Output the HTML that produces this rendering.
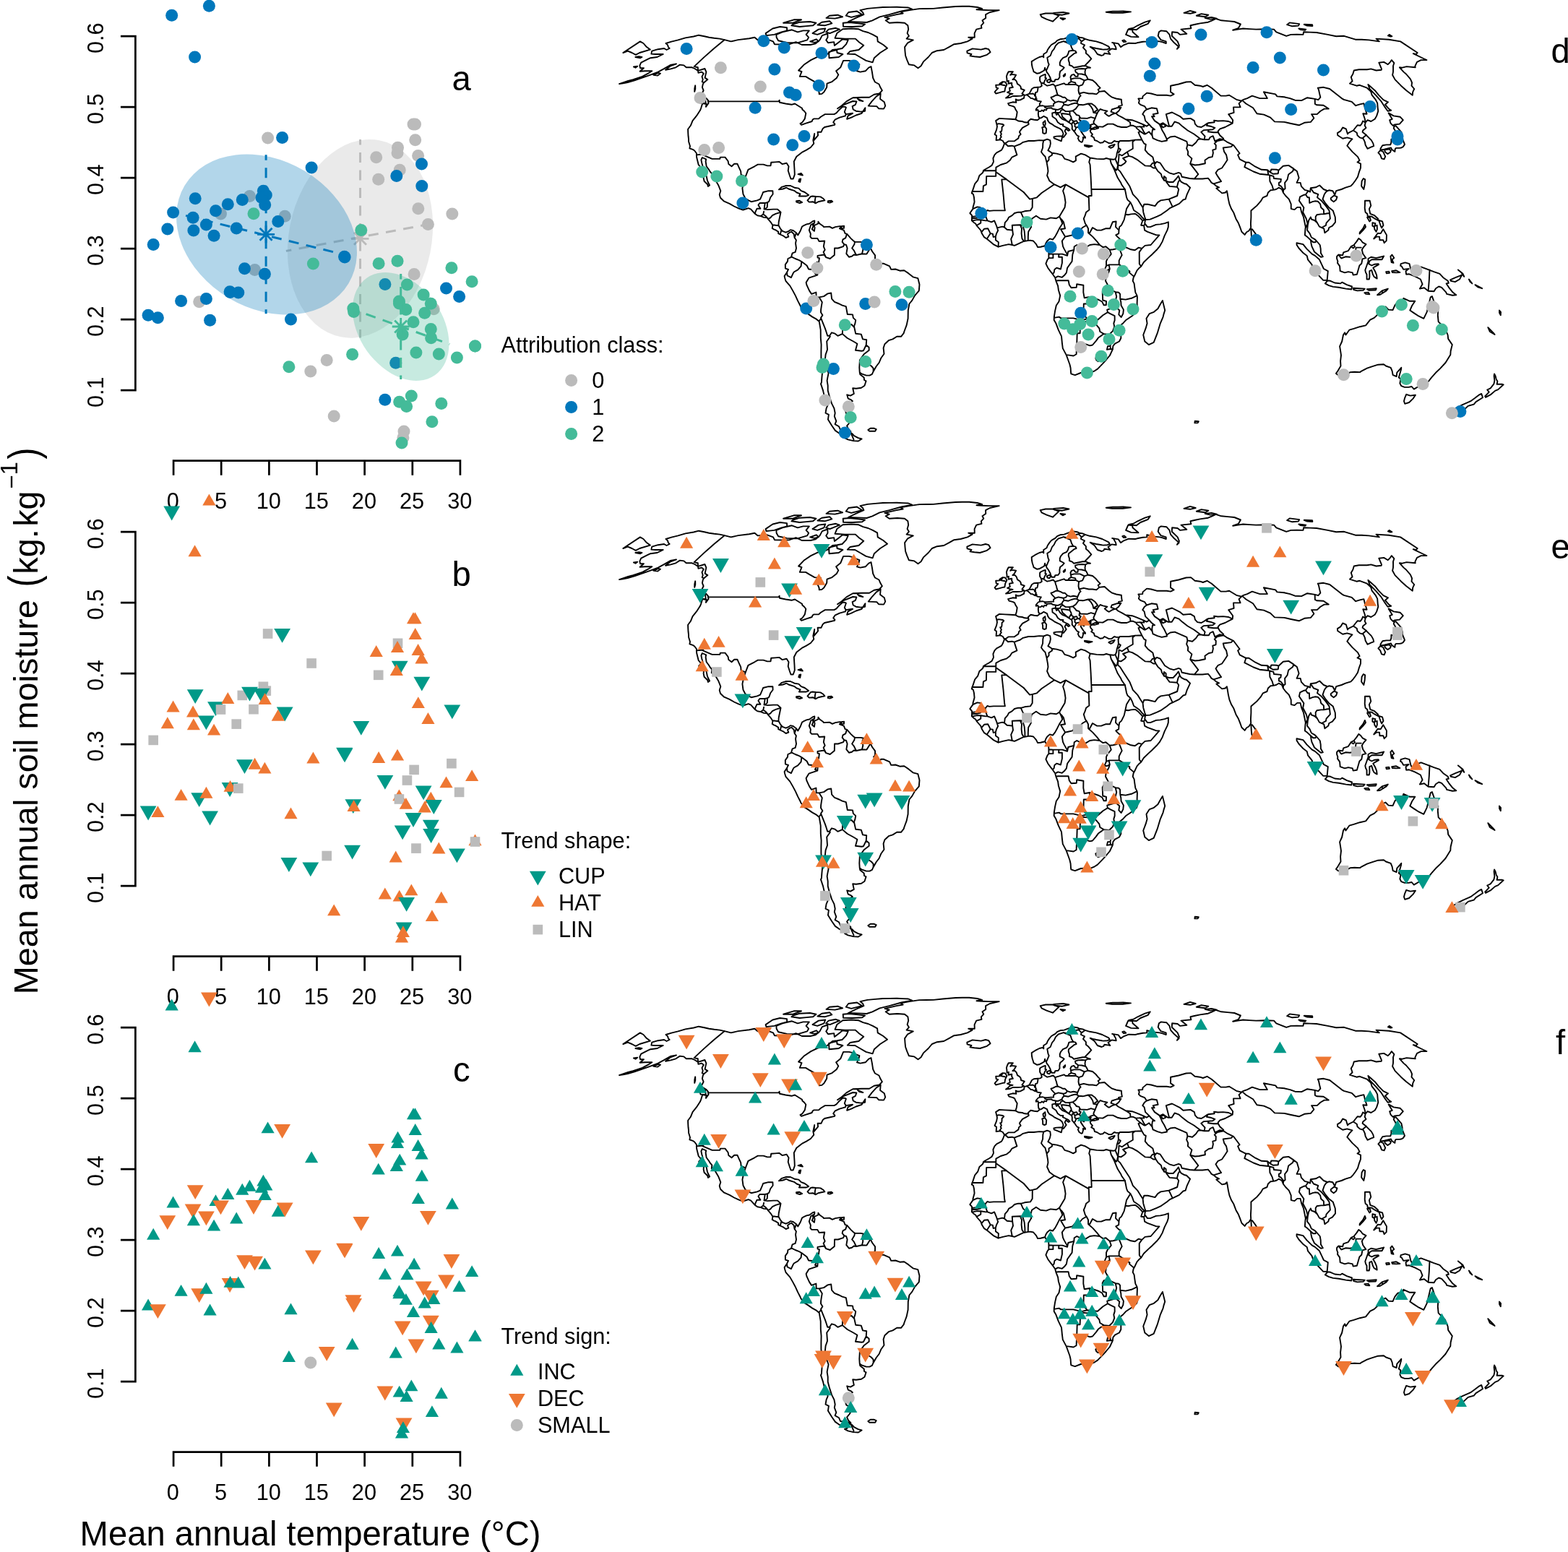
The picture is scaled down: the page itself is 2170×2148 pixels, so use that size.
<!DOCTYPE html>
<html><head><meta charset="utf-8"><title>Figure</title>
<style>html,body{margin:0;padding:0;background:#fff}svg{display:block}</style></head>
<body>
<svg xmlns="http://www.w3.org/2000/svg" width="2170" height="2148" viewBox="0 0 2170 2148" font-family='"Liberation Sans", Arial, Helvetica, sans-serif' fill="#000">
<rect width="2170" height="2148" fill="#fff"/>
<defs><g id="wm" fill="none" stroke="#000" stroke-width="1.9" stroke-linejoin="round" stroke-linecap="round"><path d="M902.2 70.6L910.6 68.2L919.1 67.0L922.5 69.0L926.6 67.0L924.8 65.1L924.1 62.4L921.5 60.0L929.2 57.7L938.4 55.4L948.6 52.4L959.9 50.5L967.0 48.7L974.8 50.2L981.3 51.7L988.4 52.8L996.0 53.6L1002.8 55.1L1011.6 57.4L1021.6 55.1L1036.9 53.2L1044.4 51.7L1048.8 55.4L1061.6 54.3L1070.0 57.4L1072.0 61.2L1086.5 61.6L1092.7 61.2L1101.5 58.1L1109.8 62.0L1121.6 62.0L1128.8 60.4L1134.5 55.4L1137.8 49.1L1145.3 46.5L1145.5 51.7L1143.2 55.4L1146.0 59.3L1154.2 58.1L1154.9 63.1L1162.1 57.4L1165.9 54.3L1173.7 55.4L1171.1 61.2L1165.5 67.0L1158.7 68.2L1152.1 69.0L1144.9 75.0L1140.4 77.0L1131.6 78.6L1122.2 83.1L1113.1 89.2L1105.1 97.5L1109.5 99.2L1106.8 105.9L1115.0 105.9L1119.9 108.9L1127.4 113.1L1136.0 114.0L1131.6 123.0L1133.5 127.3L1133.8 130.4L1137.4 129.9L1140.4 127.3L1144.2 120.8L1144.5 115.7L1151.5 113.1L1157.8 108.0L1160.3 103.4L1157.1 98.3L1163.2 93.3L1167.1 83.9L1175.0 83.9L1180.6 85.1L1184.2 87.1L1189.4 89.2L1188.3 93.7L1186.0 98.3L1190.6 99.6L1197.7 98.3L1202.2 93.7L1205.5 92.1L1206.9 99.6L1208.2 108.0L1210.9 113.5L1216.5 116.5L1218.3 120.8L1220.9 125.2L1217.0 129.5L1209.7 130.8L1203.1 134.7L1192.7 134.7L1180.3 135.2L1171.4 140.4L1163.7 147.1L1159.0 150.2L1168.0 144.8L1180.3 140.0L1185.4 140.4L1183.9 144.8L1179.6 147.1L1180.7 151.5L1184.6 153.7L1191.5 154.6L1197.1 153.7L1197.4 149.3L1192.6 156.8L1184.6 159.5L1178.2 162.6L1172.1 164.8L1173.5 160.4L1180.0 156.8L1170.6 158.1L1169.9 160.4L1161.9 162.6L1155.5 165.7L1153.2 169.3L1155.4 171.6L1155.0 172.9L1149.0 174.2L1141.1 176.0L1138.5 178.3L1136.4 182.8L1131.6 182.8L1132.1 187.3L1126.4 194.1L1127.2 185.0L1125.3 194.1L1126.3 198.6L1121.9 204.0L1116.0 207.6L1110.7 210.3L1102.3 216.7L1098.8 223.5L1099.5 234.8L1099.8 241.6L1097.7 247.5L1094.5 247.5L1092.9 243.0L1090.7 236.2L1091.5 230.3L1088.6 225.7L1082.5 227.1L1078.6 223.9L1072.7 224.4L1067.2 224.8L1066.5 229.4L1061.9 229.4L1056.5 227.6L1048.8 227.6L1044.2 230.3L1035.4 234.8L1031.8 244.3L1029.0 252.9L1027.4 260.6L1028.5 268.8L1031.6 274.7L1036.0 277.4L1039.7 279.2L1047.9 277.4L1052.1 275.6L1055.0 268.8L1056.1 266.0L1063.5 264.2L1069.4 264.2L1069.6 268.8L1066.2 273.3L1064.3 278.7L1062.2 280.1L1061.7 286.9L1058.6 289.6L1062.2 290.1L1070.2 289.6L1076.1 289.6L1080.5 293.7L1079.1 300.5L1077.7 307.3L1077.4 311.8L1079.9 316.3L1082.9 319.9L1087.6 321.7L1091.7 319.9L1093.8 318.1L1097.7 319.0L1102.0 322.2L1104.2 325.4L1107.7 319.5L1110.0 313.6L1113.0 311.8L1116.2 310.4L1120.3 309.5L1124.5 306.4L1127.3 305.4L1127.2 308.2L1124.9 311.8L1125.7 312.7L1123.8 317.2L1126.9 319.9L1127.6 315.0L1126.5 312.2L1132.3 309.5L1132.4 306.8L1134.3 309.5L1138.9 312.7L1140.0 314.1L1148.0 313.6L1151.9 315.9L1156.0 314.1L1162.1 313.1L1164.5 313.1L1161.9 316.3L1167.8 318.6L1169.6 323.1L1172.4 324.0L1177.4 329.9L1181.3 333.5L1183.3 334.9L1191.3 334.9L1195.3 335.8L1201.2 339.4L1204.4 342.6L1207.1 348.0L1211.1 353.4L1211.0 359.3L1209.0 361.6L1215.0 362.5L1217.1 368.4L1219.1 364.8L1223.1 364.8L1231.1 368.4L1233.2 372.9L1239.2 372.5L1245.3 374.7L1251.3 374.3L1257.4 378.4L1263.5 383.3L1270.3 385.1L1272.5 393.8L1271.8 402.4L1266.0 409.1L1262.2 415.9L1258.4 420.5L1256.8 429.5L1256.6 440.8L1254.7 449.9L1251.3 459.0L1250.7 461.2L1247.0 465.8L1241.2 465.8L1235.5 469.4L1229.8 471.2L1224.4 476.2L1222.6 481.6L1223.5 489.8L1219.5 495.2L1216.6 502.0L1212.7 507.0L1208.6 514.2L1206.9 517.8L1203.5 519.6L1198.9 519.6L1192.4 517.4L1189.8 515.6L1190.3 518.3L1195.7 522.4L1196.0 526.0L1198.6 527.3L1196.5 533.7L1192.0 536.8L1184.8 537.7L1180.2 537.3L1181.8 544.9L1177.0 547.6L1172.2 546.3L1173.7 551.6L1177.9 553.4L1179.9 555.2L1175.5 557.5L1176.5 564.2L1172.7 565.9L1170.3 569.5L1171.3 572.6L1177.9 576.1L1178.9 579.2L1175.7 585.0L1172.1 589.3L1173.9 593.7L1177.4 597.2L1174.0 598.0L1170.1 599.3L1171.5 603.2L1167.5 602.8L1160.8 599.3L1155.9 595.9L1151.3 589.3L1145.9 580.6L1146.9 573.9L1142.5 571.7L1143.6 565.1L1145.6 560.6L1145.1 553.9L1141.1 549.4L1139.0 540.4L1136.0 531.4L1136.9 529.1L1137.4 522.4L1138.5 511.0L1137.0 502.0L1136.4 495.2L1136.4 486.1L1136.6 477.1L1135.8 468.0L1135.7 456.7L1133.7 444.9L1129.3 441.3L1124.3 438.6L1117.9 434.1L1112.8 430.9L1108.3 425.0L1107.4 422.7L1104.1 416.4L1100.8 409.1L1097.2 402.4L1093.3 395.6L1087.4 388.8L1086.0 384.2L1085.6 382.0L1089.0 377.0L1091.0 372.9L1086.9 371.6L1086.8 366.1L1090.0 361.6L1090.4 358.0L1094.5 356.2L1095.3 354.8L1096.6 350.3L1100.6 348.9L1102.0 343.5L1101.0 336.7L1101.9 332.2L1099.6 329.0L1098.7 324.0L1095.6 320.8L1093.6 321.3L1089.9 324.0L1091.3 327.6L1087.6 329.0L1084.5 326.7L1079.8 324.5L1077.1 323.1L1077.2 320.8L1073.0 318.1L1071.4 317.7L1068.7 315.9L1069.4 311.8L1066.5 307.3L1062.9 303.2L1061.8 301.4L1057.1 300.9L1052.9 299.1L1048.2 298.2L1044.8 295.9L1039.2 289.6L1035.8 288.2L1028.3 290.5L1022.6 288.7L1015.9 285.5L1009.6 281.9L1002.2 278.7L997.0 273.7L995.7 269.2L997.3 264.2L994.3 256.5L989.6 248.4L984.8 245.2L985.4 240.7L982.4 237.1L981.1 234.8L977.7 230.3L976.6 223.5L977.2 220.3L971.9 218.0L970.4 221.2L971.3 225.7L972.6 230.3L974.1 234.8L976.0 239.3L977.7 243.9L978.8 249.3L979.8 252.0L982.1 256.5L979.9 257.9L979.2 255.2L974.6 250.7L973.6 246.1L974.0 243.0L969.6 240.2L967.2 235.7L970.2 232.1L966.7 228.0L965.7 223.9L964.2 218.0L963.9 214.4L964.0 212.2L961.2 208.5L959.4 207.2L954.4 205.4L955.0 202.2L953.1 195.9L952.9 191.4L952.5 188.2L952.2 182.8L952.1 178.7L955.8 173.8L958.5 167.1L963.9 160.4L968.9 152.8L970.3 149.3L972.2 143.1L977.6 144.0L976.9 147.9L980.6 142.6L979.9 140.4L980.1 139.1L977.6 136.1L973.9 133.9L970.3 131.7L973.6 125.2L971.9 120.8L972.8 116.5L974.0 114.4L971.7 113.1L972.7 110.1L971.5 105.9L973.8 101.7L970.9 99.6L966.4 100.8L966.0 97.9L961.5 95.0L957.7 93.3L949.7 93.3L946.4 90.4L940.9 89.6L935.3 93.3L928.2 95.4L921.0 96.7L927.9 91.3L936.0 88.4L927.7 90.0L918.5 95.4L910.7 99.6L899.5 103.8L888.8 107.6L878.1 111.4L868.7 114.0L862.3 115.3L857.0 116.1L869.3 111.8L876.1 110.1L889.0 105.9L896.9 101.7L902.3 98.3L897.4 98.3L892.6 98.3L885.6 98.7L890.9 94.2L886.1 94.2L885.3 90.8L887.2 86.7L896.0 82.2L900.2 80.2L909.5 79.0L917.7 75.0L913.1 75.0L907.0 75.0L901.4 74.6ZM1002.8 55.1L988.2 67.0L974.2 79.4L960.6 92.1L965.8 93.3L966.0 97.9L975.4 95.0L977.4 99.6L975.6 107.6L979.3 110.1L974.0 114.4M979.9 140.4L990.8 140.4L1001.6 140.4L1012.5 140.4L1023.4 140.4L1034.3 140.4L1045.1 140.4L1056.0 140.4L1066.9 140.4L1077.7 140.4L1078.6 138.7L1079.0 141.8L1087.3 143.5L1095.5 144.8L1100.0 143.5L1110.0 149.7L1110.3 151.5L1113.0 153.7L1115.3 156.8L1113.8 164.4L1110.4 169.3L1107.5 171.1L1109.1 172.9L1115.4 170.7L1123.7 168.0L1124.5 165.7L1126.1 164.4L1133.0 164.4L1135.8 161.7L1141.8 158.1L1154.4 158.1L1157.5 156.4L1160.6 152.8L1166.3 147.5L1169.7 147.9L1170.9 148.8L1168.8 155.0L1170.4 157.7M963.9 214.4L973.4 213.5L972.7 214.4L985.5 219.9L996.2 219.9L996.9 217.6L1003.5 217.6L1007.6 223.0L1008.3 227.1L1012.5 230.3L1016.2 226.7L1020.4 226.7L1022.6 231.6L1025.2 237.1L1025.6 242.0L1031.8 244.3M1044.8 295.9L1045.5 293.2L1047.6 288.7L1052.4 288.7L1049.4 283.7L1051.4 281.0L1058.7 281.0L1057.5 289.6L1058.6 289.6M1058.7 281.0L1062.2 280.1M1057.1 292.8L1056.3 296.4L1052.9 299.1M1056.3 296.4L1059.3 298.7L1061.8 301.4M1062.9 303.2L1066.2 301.4L1068.9 298.2L1073.5 295.9L1077.6 294.6L1080.5 293.7M1069.4 311.3L1073.4 311.8L1077.3 312.2M1079.8 324.5L1081.3 318.6M1099.6 329.0L1102.0 322.2M1127.2 308.2L1122.2 311.3L1119.8 318.6L1121.9 323.6L1121.4 327.6L1123.3 329.9L1131.3 329.9L1133.6 334.0L1141.2 333.5L1139.8 341.2L1141.7 345.8L1139.6 348.9L1143.1 356.2M1143.1 356.2L1140.7 352.5L1131.5 353.9L1131.5 356.6L1133.9 357.1L1133.0 363.9L1130.6 362.5L1132.3 368.4L1131.3 380.6M1131.3 380.6L1128.0 378.8L1130.8 373.8L1119.1 372.5L1116.6 367.5L1109.3 362.1M1109.3 362.1L1105.3 359.8L1100.5 358.0L1095.3 355.3M1109.3 362.1L1108.6 368.4L1104.2 373.4L1098.7 376.5L1097.1 379.3L1094.9 384.2L1089.6 381.5L1089.0 377.0M1131.3 380.6L1119.4 384.7L1115.6 391.0L1116.5 394.7L1120.1 402.4L1123.1 406.9L1129.4 404.6L1129.7 411.4L1133.7 411.4M1133.7 411.4L1137.8 418.2L1136.9 423.2L1136.1 428.6L1136.0 432.2L1138.4 436.3L1136.0 439.9L1136.4 440.8L1133.2 444.5M1136.4 440.8L1139.1 447.6L1141.8 454.4L1143.4 459.0L1145.2 464.8L1148.0 464.8M1133.7 411.4L1140.1 410.1L1145.5 406.4L1150.2 405.5L1151.1 413.7L1154.9 417.8L1161.4 420.5L1165.6 422.7L1170.8 424.1L1172.8 435.0L1180.0 435.4L1180.8 439.9L1184.2 443.1L1183.4 447.6L1182.1 451.3L1182.3 453.1M1182.3 453.1L1178.4 449.0L1168.2 450.4L1166.2 454.4L1165.8 462.1M1165.8 462.1L1159.4 464.8L1155.5 461.7L1151.0 460.3L1148.0 464.8M1148.0 464.8L1148.9 465.8L1144.2 472.5L1145.0 483.9L1142.6 490.7L1141.9 497.5L1141.3 504.2L1144.6 511.0L1146.6 516.5L1145.4 522.4L1144.6 526.9L1145.7 533.7L1145.7 540.4L1148.1 549.4L1151.0 558.4L1154.4 565.1L1155.7 571.7L1154.8 576.1L1157.3 582.8L1155.6 587.1L1161.0 590.2L1163.0 595.0L1171.3 595.9L1177.4 597.2M1165.8 462.1L1172.7 468.0L1181.0 472.5L1186.4 475.7L1184.0 484.8L1192.3 485.7L1195.0 485.2L1198.7 477.5M1182.3 453.1L1184.2 461.7L1191.8 462.6L1194.0 469.4L1199.2 470.3L1198.7 477.5M1198.7 477.5L1202.6 480.7L1202.7 484.8L1195.6 490.2L1189.9 498.4M1189.9 498.4L1189.3 508.8L1189.7 515.1M1189.9 498.4L1196.5 501.5L1200.7 503.3L1205.8 506.5L1208.6 509.7L1208.6 514.2M1143.1 356.2L1148.7 358.0L1154.8 353.0L1155.0 343.5L1159.8 343.5L1167.1 341.2L1168.3 338.1M1168.3 338.1L1165.6 334.9L1166.5 331.3L1170.2 329.4L1171.5 325.4L1172.4 324.0M1168.3 338.1L1171.1 339.0L1172.6 343.5L1171.3 351.2L1174.9 355.7L1178.9 354.8L1181.7 352.5L1184.9 353.0M1184.9 353.0L1181.8 346.7L1179.1 343.5L1182.4 338.1L1182.9 334.9M1184.9 353.0L1187.4 352.5L1193.0 351.2M1193.0 351.2L1194.3 345.8L1193.6 339.0L1195.3 335.8M1193.0 351.2L1199.4 351.6L1204.4 343.5M1177.4 598.9L1171.6 599.8L1173.6 602.8L1172.2 604.9L1168.9 605.8L1173.5 608.4L1181.0 610.1L1187.9 610.5L1192.6 607.5L1187.7 606.2L1182.0 603.2L1179.3 600.2ZM1177.4 598.9L1181.5 608.4M1201.3 595.0L1204.6 592.8L1209.8 592.8L1212.7 594.1L1211.2 596.7L1207.1 596.7L1203.3 596.7ZM1077.9 262.4L1081.9 258.8L1088.0 257.0L1093.9 257.0L1099.5 259.7L1105.3 260.6L1108.8 264.2L1113.7 266.0L1119.1 270.1L1115.8 271.5L1105.9 271.5L1107.5 268.3L1102.6 266.5L1099.0 263.8L1091.4 261.5L1088.5 259.7L1083.5 261.5ZM1117.5 277.4L1122.1 271.9L1124.5 271.5L1128.8 271.9L1135.5 272.4L1139.2 274.7L1141.3 277.4L1136.8 278.3L1132.4 279.2L1128.6 281.4L1125.3 279.2L1119.7 279.6ZM1128.8 271.9L1127.8 277.4L1127.9 281.0M1102.0 278.3L1106.4 277.8L1110.1 280.1L1106.8 281.0L1102.2 279.6ZM1145.9 278.3L1150.7 277.8L1152.2 279.2L1148.5 280.5L1145.8 280.1ZM1164.5 313.1L1168.1 312.7L1167.9 315.9L1164.3 315.9ZM1106.2 247.9L1108.2 247.5L1107.2 252.0L1105.3 251.1ZM1104.5 241.1L1108.7 239.8L1110.9 242.5L1108.3 242.0ZM1536.2 220.3L1540.8 220.8L1543.8 219.9L1545.3 215.8L1545.7 212.2L1547.1 208.1L1547.9 204.9L1547.6 199.5L1548.3 195.9L1544.9 195.9L1542.1 195.0L1538.4 198.1L1534.6 198.1L1528.6 195.0L1526.2 197.2L1522.5 197.7L1518.1 195.0L1515.0 194.1L1513.8 190.4L1510.2 188.2L1511.9 185.9L1509.3 182.8L1508.7 180.5L1511.1 178.7L1515.5 178.7L1520.2 177.4L1518.9 176.0L1515.2 176.0L1511.7 177.8L1508.0 177.8L1504.2 176.5L1500.6 177.4L1500.2 180.5L1497.0 178.7L1495.9 178.3L1495.8 181.4L1497.6 184.1L1499.7 187.3L1501.8 189.5L1502.1 190.9L1498.8 190.0L1499.0 192.3L1497.9 196.3L1496.4 196.8L1493.6 195.0L1491.8 191.4L1493.1 188.6L1490.8 187.7L1489.1 185.5L1487.0 182.3L1483.7 178.7L1483.8 174.7L1483.2 172.0L1479.7 169.8L1475.8 167.1L1470.2 164.8L1467.0 161.7L1464.2 157.3L1462.1 159.0L1460.8 155.5L1456.2 156.4L1456.5 161.3L1461.4 164.8L1463.9 169.3L1467.7 172.0L1471.4 172.0L1470.8 174.2L1474.7 176.0L1478.5 177.8L1480.5 180.1L1478.7 181.0L1475.2 178.3L1473.6 181.4L1475.7 185.0L1473.6 187.7L1471.9 190.0L1470.3 188.6L1471.6 185.0L1469.8 180.5L1466.7 177.8L1464.4 176.9L1459.8 174.7L1456.8 172.4L1452.2 169.8L1450.3 167.1L1449.0 163.1L1444.5 160.8L1441.0 163.1L1439.2 163.5L1435.7 166.2L1431.3 165.7L1426.5 164.8L1422.9 168.0L1423.7 172.0L1420.1 174.2L1415.0 176.9L1411.3 181.9L1410.9 182.8L1412.7 185.9L1410.1 188.2L1409.4 191.4L1404.9 194.5L1403.7 195.4L1395.4 195.4L1392.0 198.1L1389.4 197.7L1387.9 195.0L1384.2 193.2L1378.6 194.1L1379.1 187.7L1376.6 185.9L1379.1 179.6L1380.0 175.1L1379.4 172.0L1378.1 167.1L1383.0 163.9L1390.9 164.4L1398.2 164.8L1405.5 165.3L1406.9 160.4L1407.7 155.0L1405.2 151.0L1404.2 148.4L1402.1 147.1L1396.4 145.7L1395.1 143.1L1401.4 141.3L1406.4 141.8L1405.7 137.4L1408.1 138.7L1412.4 138.2L1417.2 135.6L1417.5 132.1L1420.7 131.2L1424.1 129.9L1425.8 127.3L1428.0 123.0L1430.7 121.3L1435.8 120.8L1439.5 120.4L1441.8 118.7L1440.9 114.8L1439.1 111.8L1439.1 106.7L1440.4 105.5L1444.8 103.4L1446.8 102.9L1446.5 108.0L1448.2 108.4L1446.0 111.0L1444.9 114.4L1443.9 115.3L1445.7 116.5L1449.2 118.7L1452.9 117.8L1457.5 116.5L1460.1 119.1L1466.0 117.4L1472.5 115.3L1474.7 117.0L1478.1 117.0L1479.2 114.8L1482.3 113.1L1482.2 110.1L1481.4 106.7L1483.0 103.8L1486.1 102.9L1488.5 105.9L1491.5 105.9L1491.9 102.1L1488.5 99.6L1488.0 96.7L1492.0 95.4L1497.4 95.0L1502.3 95.4L1505.2 93.7L1509.0 93.7L1504.9 92.5L1503.1 91.3L1498.3 91.3L1492.1 92.5L1485.9 93.7L1484.0 91.7L1479.9 90.0L1480.0 87.1L1478.7 83.1L1478.9 80.2L1483.0 77.0L1487.0 73.8L1489.6 73.0L1488.5 70.6L1485.3 69.8L1479.4 70.6L1478.0 75.0L1476.3 77.8L1471.1 80.2L1467.9 83.9L1466.7 87.1L1466.9 90.4L1471.3 92.5L1472.7 93.7L1470.5 96.2L1467.2 98.7L1466.4 102.5L1466.5 106.7L1464.5 109.7L1460.3 110.1L1459.5 112.7L1455.5 112.7L1454.3 110.1L1453.4 107.2L1451.0 102.9L1448.5 99.6L1448.0 97.5L1446.6 96.2L1446.1 93.7L1445.1 97.5L1441.3 99.6L1438.1 101.3L1434.9 101.7L1430.5 99.2L1430.1 97.5L1428.7 93.3L1427.9 89.2L1427.7 85.1L1432.3 82.2L1438.4 79.0L1442.9 77.8L1444.3 79.4L1444.2 75.0L1448.6 72.2L1449.8 69.0L1452.4 65.1L1455.0 62.0L1457.7 60.4L1460.4 58.9L1463.0 56.2L1467.0 54.3L1472.7 53.6L1478.0 51.7L1485.3 49.4L1490.6 50.2L1493.8 51.7L1498.4 52.4L1501.7 53.9L1508.0 55.8L1517.2 57.4L1525.4 60.0L1534.3 64.3L1535.8 67.0L1532.6 68.2L1526.7 68.6L1517.2 67.0L1512.4 65.9L1508.7 64.7L1514.7 69.0L1518.8 75.0L1524.6 77.0L1527.4 75.8L1528.3 73.8L1534.7 74.6L1536.3 75.0L1533.5 71.0L1538.4 67.4L1544.7 68.2L1544.1 65.1L1540.8 59.3L1539.1 58.9L1547.7 60.4L1551.0 65.1L1554.5 62.7L1562.1 59.7L1571.1 60.0L1573.7 59.3L1581.7 57.7L1587.4 57.4L1587.2 54.3L1598.6 56.6L1604.9 57.4L1608.3 58.1L1613.8 60.0L1613.7 57.4L1606.5 55.1L1602.7 49.8L1603.9 44.3L1606.8 42.4L1614.3 43.2L1618.5 47.9L1620.0 53.6L1625.1 59.3L1631.7 65.1L1628.9 67.8L1632.0 63.1L1629.7 57.4L1621.8 49.8L1622.1 44.3L1629.6 45.0L1633.3 47.9L1642.3 46.8L1634.5 40.6L1648.4 39.2L1647.4 35.3L1654.1 33.8L1660.7 32.4L1672.0 30.7L1677.5 28.3L1682.6 25.9L1690.2 28.3L1699.2 29.1L1708.3 30.0L1716.9 33.5L1714.0 38.8L1706.2 41.7L1713.3 40.6L1720.3 39.5L1729.2 40.1L1738.2 40.6L1751.5 40.3L1763.0 40.6L1766.3 44.3L1780.2 49.8L1786.4 47.9L1794.5 47.6L1803.5 47.9L1804.1 44.3L1813.0 44.6L1822.0 45.0L1837.5 47.9L1849.2 50.2L1860.1 49.8L1875.8 54.7L1884.5 54.7L1894.4 55.4L1908.9 57.4L1904.5 53.6L1922.2 54.7L1938.1 57.4L1961.7 73.0L1960.0 75.0L1955.8 74.2L1970.0 81.0L1974.4 83.1L1966.6 83.1L1961.0 85.9L1958.4 91.3L1958.7 93.3L1946.6 92.1L1940.6 93.7L1936.9 93.3L1942.6 99.6L1946.0 102.5L1951.9 109.3L1954.1 114.4L1953.5 118.7L1957.2 123.0L1955.2 127.3L1954.8 131.7L1946.3 125.2L1939.0 118.7L1930.6 110.1L1927.1 103.8L1928.0 99.6L1928.1 95.4L1928.0 91.3L1929.4 87.1L1925.9 83.1L1923.6 86.3L1920.8 89.2L1915.2 85.9L1908.3 86.7L1912.0 95.4L1911.7 96.7L1904.6 97.5L1897.4 95.4L1891.9 96.2L1880.6 96.2L1873.8 97.5L1872.3 102.5L1869.8 106.7L1871.6 112.3L1868.0 115.7L1877.4 118.7L1881.7 117.8L1891.9 121.7L1897.1 126.5L1898.7 131.7L1903.9 138.2L1906.2 142.6L1906.7 149.3L1907.3 153.7L1905.2 160.4L1902.7 164.8L1897.4 168.0L1892.6 166.2L1889.8 169.3L1888.7 173.8L1890.5 176.9L1886.2 180.5L1885.6 182.8L1890.6 186.8L1897.9 194.1L1900.4 198.6L1901.2 202.2L1897.3 203.6L1892.5 205.8L1889.7 200.8L1888.8 196.3L1886.7 191.8L1881.9 190.4L1878.5 187.3L1877.8 183.7L1872.9 180.5L1865.8 184.1L1865.0 185.5L1862.8 178.3L1858.2 176.5L1855.2 181.4L1850.9 184.1L1851.3 187.3L1858.2 191.8L1864.3 190.4L1871.5 192.3L1867.7 196.3L1864.3 201.7L1871.4 209.9L1879.1 217.1L1881.6 222.1L1878.5 224.4L1883.1 226.7L1883.0 232.5L1880.8 238.4L1879.0 244.8L1875.8 249.7L1872.8 253.8L1869.5 257.4L1862.1 259.7L1856.6 262.0L1849.1 264.2L1847.3 269.7L1844.4 264.2L1839.1 263.3L1835.5 265.1L1832.9 268.8L1830.5 275.6L1834.1 281.0L1838.9 286.9L1844.7 291.4L1847.8 300.5L1848.1 307.3L1843.9 312.7L1839.3 315.0L1838.3 318.6L1833.4 322.2L1832.2 316.3L1825.9 313.6L1823.1 308.6L1819.2 305.0L1815.1 303.6L1813.9 300.5L1811.2 305.0L1809.8 311.8L1809.1 318.6L1812.6 323.1L1814.9 328.5L1819.1 330.8L1822.0 333.5L1826.7 339.0L1827.7 344.4L1827.9 350.3L1830.8 355.3L1828.0 355.7L1823.9 352.5L1819.0 348.5L1815.5 341.2L1814.5 336.7L1813.9 332.2L1808.9 327.6L1805.9 325.4L1806.3 318.6L1806.8 314.1L1805.4 307.3L1804.0 300.5L1801.2 293.7L1799.6 286.9L1795.2 286.9L1791.6 290.1L1786.8 289.1L1786.7 282.4L1783.8 275.6L1779.2 271.0L1775.8 266.5L1774.0 262.0L1769.7 259.7L1766.1 262.0L1762.3 262.9L1758.4 263.3L1754.9 266.5L1753.5 271.0L1747.9 273.3L1744.6 278.7L1739.4 284.6L1735.7 287.8L1731.4 291.4L1731.4 300.5L1730.9 309.5L1731.2 315.0L1728.3 319.5L1725.2 321.3L1722.6 324.9L1718.4 320.8L1716.0 314.1L1713.6 308.2L1710.4 302.7L1707.4 294.6L1704.1 289.1L1701.4 282.4L1699.9 275.6L1698.8 268.8L1697.9 264.2L1695.8 266.5L1691.2 267.4L1683.3 260.6L1687.1 259.3L1683.0 257.4L1679.5 254.3L1676.6 252.9L1674.2 249.3L1671.9 246.6L1664.2 247.5L1656.4 247.5L1652.8 247.5L1646.5 247.0L1640.5 245.7L1635.7 244.8L1634.0 240.2L1631.1 238.9L1624.4 241.1L1618.3 239.3L1612.0 235.3L1608.7 230.3L1605.7 225.7L1600.9 223.9L1599.2 225.7L1597.5 228.0L1599.6 232.5L1602.5 237.1L1606.8 240.7L1608.0 244.8L1610.8 249.3L1611.0 243.9L1613.6 246.1L1613.7 250.7L1617.7 252.0L1623.6 252.0L1628.2 247.0L1630.9 243.4L1632.6 248.4L1634.5 251.6L1639.5 254.3L1641.9 254.7L1647.1 259.7L1642.8 268.8L1640.6 275.6L1637.5 276.5L1632.0 281.9L1626.3 284.6L1619.4 287.8L1614.8 291.4L1607.2 296.8L1601.4 299.6L1591.6 303.6L1585.6 304.1L1584.3 300.5L1582.3 293.7L1581.6 287.3L1578.5 282.4L1574.2 275.6L1567.8 268.8L1566.0 264.2L1563.2 257.4L1558.8 250.7L1554.4 243.9L1550.0 237.1L1547.1 234.4L1547.3 228.0L1545.9 233.9L1544.8 235.7L1541.9 232.5L1537.8 226.2ZM885.9 57.4L890.5 60.0L894.9 65.1L899.8 68.6L885.2 73.0L879.8 75.8L874.5 73.0L868.8 70.6L862.3 73.0ZM1518.8 175.1L1526.2 175.6L1533.0 171.6L1540.3 171.6L1546.3 174.7L1552.1 176.0L1559.4 176.0L1564.5 173.8L1564.1 169.3L1559.5 166.2L1553.3 162.6L1547.3 159.5L1544.3 156.8L1548.1 153.7L1551.4 148.8L1545.5 149.3L1538.7 151.5L1537.5 154.6L1543.3 156.8L1539.2 158.1L1534.9 160.8L1533.0 159.9L1528.8 156.4L1532.3 153.7L1526.4 152.4L1522.6 151.0L1518.7 155.9L1516.0 162.6L1514.1 167.1L1513.3 169.3L1514.6 171.6ZM1583.9 153.7L1586.9 151.5L1593.5 149.3L1600.9 150.2L1602.6 156.8L1595.7 158.1L1597.6 161.3L1594.0 161.3L1597.9 167.1L1604.4 171.6L1606.6 176.0L1608.4 180.5L1611.2 185.0L1614.5 191.8L1615.0 194.5L1607.7 195.9L1601.8 194.1L1595.6 191.4L1594.6 187.7L1594.3 184.1L1595.1 179.2L1598.1 179.2L1593.7 176.0L1589.8 171.6L1585.1 167.1L1583.6 160.4L1581.3 158.1ZM1606.5 172.4L1611.0 171.6L1613.3 174.7L1609.3 176.5ZM1392.1 135.6L1398.1 134.7L1401.6 133.0L1406.8 133.0L1413.7 132.6L1416.8 130.8L1414.4 129.5L1417.8 124.7L1413.0 123.0L1412.7 120.4L1411.3 118.3L1408.0 116.1L1406.7 112.3L1404.7 110.1L1401.3 110.1L1403.7 108.0L1406.1 103.8L1400.5 102.9L1398.2 103.8L1401.9 99.2L1395.7 99.2L1394.0 102.5L1392.9 105.9L1393.4 108.9L1393.6 112.7L1396.0 111.8L1395.5 115.7L1400.2 114.8L1400.2 117.8L1401.8 120.8L1397.0 121.7L1397.3 123.9L1397.9 126.0L1394.1 127.8L1397.5 129.1L1401.6 129.9L1397.5 130.8L1394.6 133.9ZM1390.4 126.5L1391.2 121.7L1393.4 117.0L1391.2 113.5L1387.6 113.1L1383.4 115.7L1383.3 117.4L1378.2 117.8L1378.7 121.3L1381.3 122.1L1378.4 125.2L1376.6 127.3L1378.2 129.5L1383.4 128.2L1388.0 126.9ZM1390.7 118.3L1388.3 117.8L1385.0 117.0L1387.2 114.4M1458.4 189.5L1462.1 188.6L1470.3 188.2L1468.8 195.4L1464.6 193.6L1458.8 191.4ZM1442.2 176.5L1445.9 175.1L1448.2 178.3L1447.7 184.1L1445.5 185.0L1443.2 184.1L1443.1 179.2ZM1443.5 169.8L1446.3 167.1L1446.8 171.6L1445.8 174.2L1443.9 172.9ZM1500.9 200.8L1504.7 201.3L1511.6 202.2L1506.8 203.6L1501.4 202.2ZM1534.4 203.1L1536.9 201.7L1542.7 199.9L1540.8 203.1L1537.3 204.9ZM1448.7 111.4L1452.9 109.7L1454.1 111.8L1452.3 114.4L1449.5 113.5ZM1471.6 104.6L1474.2 102.1L1473.9 104.6L1472.1 105.9ZM1931.7 174.2L1939.4 182.8L1940.6 188.2L1940.7 191.8L1942.6 196.3L1944.0 199.9L1941.8 203.1L1939.4 204.5L1936.6 204.9L1932.0 204.9L1930.7 206.3L1930.4 209.9L1926.0 206.7L1925.0 204.5L1920.8 205.4L1915.7 206.7L1910.4 207.6L1910.6 205.4L1913.3 201.3L1918.6 200.4L1924.2 200.4L1925.4 197.2L1925.4 192.7L1928.7 194.1L1931.5 192.3L1932.6 187.3L1931.2 181.4L1928.8 177.4L1929.3 175.1ZM1927.7 173.8L1930.2 172.4L1936.9 171.6L1941.8 166.2L1937.6 161.7L1928.7 160.4L1921.6 156.4L1926.7 164.8L1923.2 166.2L1924.6 170.7ZM1910.2 208.1L1914.1 209.9L1917.2 216.7L1915.6 220.3L1912.1 219.4L1910.2 214.4L1907.4 211.3ZM1916.1 207.6L1922.4 206.3L1924.9 208.5L1924.0 210.8L1920.3 213.1L1916.9 210.3ZM1893.4 117.0L1902.8 125.2L1908.0 131.7L1914.4 138.2L1921.0 141.3L1917.0 144.8L1921.6 150.2L1925.2 152.8L1920.5 153.7L1915.8 147.1L1911.6 140.4L1903.9 131.7L1895.4 123.0ZM1886.9 247.0L1889.2 248.4L1888.7 255.2L1887.3 262.0L1884.1 257.4L1884.6 250.7ZM1841.7 274.2L1846.3 270.6L1850.5 272.4L1849.2 276.5L1845.7 279.2L1842.1 276.5ZM1731.4 317.2L1733.0 317.2L1737.3 323.1L1739.9 327.6L1738.9 332.2L1735.0 334.9L1732.4 330.8L1731.8 325.4ZM1379.4 172.0L1382.0 171.1L1387.8 172.0L1389.2 173.3L1386.6 176.0L1386.5 179.6L1386.0 181.9L1384.2 182.3L1385.9 185.5L1384.7 187.7L1385.8 189.5L1383.9 191.8L1384.2 193.2M1405.5 165.3L1409.4 167.5L1414.6 168.0L1418.2 169.3L1423.3 169.8M1439.2 163.5L1437.3 161.7L1436.8 157.7L1437.1 154.1L1436.3 151.9L1433.8 152.8L1433.8 151.0L1436.8 147.5L1438.9 146.6L1438.8 143.5L1440.8 140.4L1435.5 139.6L1434.4 138.2L1432.3 138.2L1428.7 136.1L1426.7 136.1L1423.1 132.6L1420.7 131.2M1423.7 129.9L1426.9 129.9L1429.3 129.5L1432.1 130.8L1431.8 132.6L1432.8 132.6L1433.9 134.7L1433.3 135.6L1432.3 138.2M1433.3 135.6L1434.7 136.9L1434.4 138.2M1432.8 132.6L1433.0 128.2L1435.4 127.3L1436.0 125.2L1436.5 122.1M1440.9 114.8L1443.9 115.3M1460.1 119.1L1461.1 123.0L1462.0 125.2L1462.7 128.6L1464.0 131.7L1461.5 131.7L1457.2 133.9L1454.5 134.7L1455.7 136.9L1459.5 140.9L1460.6 141.8L1457.9 144.0L1458.1 146.6L1454.5 146.6L1449.3 147.1L1446.1 147.1L1442.5 146.2L1438.9 146.6M1446.1 147.1L1446.1 148.8L1449.0 149.7L1448.1 152.4L1445.2 151.9L1444.2 154.1L1442.0 152.4L1440.3 154.1L1437.1 154.1M1449.0 149.7L1451.9 149.5L1455.4 149.3L1456.2 150.6L1460.9 151.5L1460.8 155.5M1460.9 151.5L1464.2 151.9L1469.3 149.7L1470.5 147.1L1472.5 144.8L1471.5 141.8L1464.7 140.4L1460.6 141.8M1464.0 131.7L1468.6 133.4L1470.8 134.7L1473.6 134.7L1477.1 138.2L1474.9 140.9L1471.5 141.8M1477.1 138.2L1481.5 139.6L1485.6 138.7L1491.3 140.0L1490.3 143.1L1487.8 142.6L1482.6 144.0L1478.6 145.7L1472.5 144.8M1491.3 140.0L1493.8 134.3L1495.6 132.6L1493.4 129.5L1492.5 125.2L1493.0 119.1L1488.9 117.0L1478.1 117.0M1488.9 117.0L1488.2 114.4L1483.0 113.1M1493.0 119.1L1498.1 117.4L1500.8 111.4L1494.6 108.4L1486.6 108.4L1481.8 109.7M1500.8 111.4L1505.8 109.7L1503.2 104.6L1502.0 103.8L1497.2 102.5L1491.9 102.1M1502.0 103.8L1501.5 99.6L1502.3 95.4M1505.8 109.7L1512.0 111.0L1516.1 114.4L1519.6 118.7L1522.6 121.7L1519.6 123.9L1521.3 126.9L1517.4 130.4L1512.1 129.5L1506.9 129.5L1499.7 127.8L1493.4 129.5M1521.3 126.9L1528.6 126.0L1535.0 131.7L1539.1 134.7L1544.7 136.5L1551.9 137.8L1552.3 142.6L1552.9 145.7L1547.9 147.1L1547.9 148.8M1490.3 143.1L1493.0 144.8L1498.7 145.3L1505.9 143.5L1510.8 143.5L1515.6 147.1L1519.2 151.9L1513.3 155.9L1518.8 156.8M1505.9 143.5L1509.6 147.1L1512.3 151.5L1513.3 155.9M1493.0 144.8L1488.7 150.6L1484.7 153.3L1479.7 154.1L1474.7 154.1L1470.9 151.5L1469.3 149.7M1460.8 155.9L1464.1 155.9L1467.0 155.9L1468.2 152.8L1470.9 151.5M1468.9 157.3L1471.4 157.3L1476.1 157.7L1480.5 158.6L1480.6 155.9L1479.7 154.1M1468.9 157.3L1470.3 161.7L1473.8 164.8L1476.2 167.1L1479.6 169.3M1480.5 158.6L1482.2 161.7L1482.9 164.8L1481.8 164.8L1479.6 168.9M1481.8 164.8L1486.1 168.0L1485.4 168.9L1484.4 169.3L1483.2 172.0M1486.1 168.0L1490.0 167.1L1491.4 170.2L1487.6 172.0L1485.4 168.9M1484.7 153.3L1488.6 157.3L1489.6 159.0L1493.3 159.9L1494.2 161.7L1493.5 165.7L1495.8 167.1L1494.0 170.2L1491.4 170.2M1487.6 172.0L1487.5 175.1L1489.4 176.5L1487.9 180.1L1486.2 181.9M1489.4 176.5L1493.0 175.6L1496.3 174.7L1494.0 170.2M1496.3 174.7L1502.1 173.8L1507.7 174.7L1508.9 172.9L1512.8 171.6L1514.6 171.6M1508.9 172.9L1509.9 174.7L1508.0 177.4M1494.2 161.7L1495.5 163.5L1504.6 163.9L1509.8 162.2L1515.8 163.9M1448.0 97.5L1449.6 94.2L1451.7 89.2L1450.5 86.3L1449.3 79.8L1453.7 77.0L1456.0 71.0L1458.7 67.8L1461.0 63.1L1464.9 59.3L1471.9 57.1L1476.4 58.1L1483.9 58.5L1487.3 54.3L1492.8 53.2L1496.8 57.4L1501.2 54.3M1471.9 57.1L1481.5 61.2L1483.0 65.9L1485.3 69.8M1496.4 57.2L1496.0 60.0L1501.0 62.4L1498.9 65.9L1502.9 70.2L1502.9 73.8L1505.9 76.2L1510.3 81.4L1506.6 85.5L1500.8 91.3M1547.5 198.6L1549.7 195.0L1554.9 195.0L1562.4 195.0L1570.9 193.6L1580.2 193.2L1577.3 187.3L1575.5 183.2L1578.2 181.9L1572.9 177.4L1572.2 175.6L1568.2 173.8L1564.5 173.8M1557.5 165.3L1566.7 166.2L1572.7 168.4L1582.3 172.4L1583.3 175.6L1577.7 175.1L1572.2 175.6M1577.7 175.1L1580.3 177.4L1582.8 182.3L1585.2 185.5L1590.2 182.3L1594.6 187.7M1578.2 181.9L1583.4 185.5L1585.2 185.5M1582.3 172.4L1586.8 174.7L1590.3 172.4M1570.9 193.6L1567.5 196.3L1567.8 205.8L1560.0 210.3L1552.9 215.3L1548.9 213.5M1548.3 204.9L1550.8 206.7L1548.9 210.3L1546.0 211.7M1548.5 213.5L1548.3 219.0L1547.3 228.0M1543.4 219.9L1546.9 228.0M1560.0 210.3L1562.2 215.8L1554.1 219.0L1558.4 223.5L1556.7 225.7L1551.3 229.4L1547.3 228.5M1562.2 215.8L1566.9 217.1L1573.5 220.8L1584.9 229.4L1592.0 229.8L1594.9 225.7L1597.2 225.7M1592.0 229.8L1596.1 232.5L1599.6 232.5M1580.2 193.2L1583.3 198.6L1585.8 199.9L1584.7 207.6L1588.5 212.2L1595.4 217.6L1596.9 223.5L1599.2 225.7M1581.6 287.3L1583.3 282.8L1588.5 282.8L1598.5 285.1L1602.2 280.1L1606.3 277.4L1617.7 275.6L1622.8 286.4M1617.7 275.6L1629.2 271.0L1631.2 262.0L1628.9 258.8L1618.6 257.9L1614.2 252.0M1628.9 258.8L1630.6 252.0L1632.7 248.8M1610.8 249.7L1612.4 250.2M1614.6 192.7L1619.6 189.5L1625.8 188.6L1633.2 191.8L1642.4 195.9L1643.4 200.4L1642.1 205.4L1644.2 209.9L1643.9 214.4L1649.4 219.4L1647.2 226.7L1651.5 232.1L1656.3 238.4L1658.3 241.1L1652.8 247.5M1647.2 226.7L1653.7 228.5L1659.4 228.0L1667.9 226.2L1667.5 221.7L1672.9 218.0L1677.7 217.1L1678.9 211.7L1678.3 207.6L1682.6 206.3L1682.8 200.8L1680.7 198.6L1684.7 195.0L1693.2 193.2M1643.4 200.4L1650.1 201.7L1655.1 197.2L1658.2 192.7L1661.4 192.3L1666.5 193.2L1672.9 193.2L1674.7 190.0L1678.7 188.2L1681.4 195.4L1687.7 192.3L1693.2 193.2M1661.4 192.3L1652.3 185.5L1643.6 180.5L1636.6 175.1L1631.7 170.7L1625.6 168.4L1621.7 174.7L1618.1 174.7L1616.2 174.7L1609.6 170.2L1604.7 172.4M1618.1 174.7L1613.8 158.1L1622.0 155.5L1632.6 160.8L1637.4 164.8L1647.6 163.9L1652.9 167.1L1653.9 171.6L1657.2 175.1L1662.6 176.0L1665.8 174.2L1670.3 171.1L1671.8 170.2L1680.7 169.3L1680.1 166.6L1685.5 167.5L1692.7 167.1L1700.3 168.0L1705.7 170.7L1700.4 173.3L1695.4 176.0L1688.4 178.3L1685.7 181.4L1685.9 183.2L1688.2 187.3L1693.2 191.8L1693.2 193.2M1666.5 193.2L1667.6 188.6L1662.3 182.8L1666.0 180.1L1672.9 179.6L1671.9 182.3L1679.5 183.2L1685.9 183.2M1671.8 170.2L1670.0 173.8L1675.1 174.7L1681.3 176.9L1678.3 179.2L1672.9 179.6M1586.9 151.5L1584.1 147.1L1578.2 144.8L1575.9 142.6L1576.8 139.1L1575.4 136.5L1581.2 136.1L1581.5 133.4L1587.1 128.6L1593.2 129.5L1600.8 131.7L1606.0 131.7L1614.6 131.7L1620.1 132.6L1624.6 130.4L1620.0 127.3L1620.1 123.0L1620.1 118.7L1631.1 116.5L1641.5 113.5L1648.1 113.1L1653.6 117.8L1660.8 118.7L1664.8 120.0L1670.5 117.8L1676.8 121.7L1689.5 132.6L1696.5 132.6L1701.2 131.7L1711.1 137.8L1718.3 139.6L1714.6 143.1L1716.6 148.4L1707.0 148.4L1707.6 155.9L1700.2 158.1L1706.2 166.2L1705.7 170.7M1718.3 139.6L1720.1 138.2L1726.0 136.1L1732.9 132.6L1743.5 136.1L1753.9 136.1L1748.9 127.3L1765.2 130.4L1767.4 133.4L1777.3 134.3L1785.3 136.1L1792.1 138.7L1801.2 139.1L1809.2 135.2L1819.7 136.9M1720.0 139.6L1724.4 143.5L1734.1 149.3L1739.5 157.3L1749.1 158.6L1758.1 162.6L1764.0 168.4L1777.3 168.9L1785.5 170.7L1797.7 173.3L1805.2 169.8L1813.9 168.9L1818.4 163.5L1815.1 158.1L1822.7 158.1L1827.4 153.7L1832.7 150.6L1838.8 150.6L1831.6 145.7L1822.5 145.3L1819.9 144.0L1819.7 136.9L1824.4 138.2L1827.4 134.7L1826.1 129.5L1825.1 124.7L1823.8 121.7L1831.7 120.8L1840.2 123.0L1856.8 136.1L1859.8 137.8L1870.8 140.9L1876.2 146.2L1882.0 144.4L1887.4 143.1L1888.9 149.3L1891.6 157.7L1886.3 157.3L1888.9 164.8L1889.7 169.8M1872.9 180.5L1876.4 176.0L1878.6 173.3L1882.5 173.8L1884.6 171.1L1886.1 167.5L1889.7 169.8M1886.4 190.4L1891.0 186.8M1837.3 264.2L1831.8 262.0L1826.2 256.5L1820.8 259.3L1813.8 260.2L1813.1 265.6L1810.5 264.2L1805.6 262.9L1800.9 257.9L1799.7 252.9L1794.6 252.9L1797.6 246.1L1794.9 237.1L1790.2 233.4L1789.1 237.1L1783.1 241.6L1781.6 248.4L1778.1 252.9L1778.6 261.1L1776.4 262.4L1775.8 266.0M1762.3 262.9L1760.8 257.4L1757.4 250.7L1757.1 242.5L1762.4 243.9L1763.0 247.0L1772.9 247.9L1772.4 251.6L1769.9 252.9L1770.0 256.5L1772.5 257.4L1776.4 262.4M1790.2 233.4L1783.3 228.9L1775.8 229.8L1769.4 235.7L1768.8 240.2L1761.8 240.7L1757.9 238.4L1759.4 234.4L1767.2 234.8L1769.4 235.7M1757.9 238.4L1754.1 235.3L1745.9 234.8L1737.3 230.7L1728.3 224.8L1724.4 224.8L1722.3 231.2L1734.8 237.5L1743.1 240.7L1755.5 242.0L1754.1 235.3M1724.4 224.8L1715.7 220.3L1713.1 214.4L1715.6 212.2L1707.0 200.8L1697.8 196.3L1693.2 193.2M1679.5 254.3L1690.1 251.1L1685.2 243.9L1682.5 239.3L1685.7 234.8L1691.1 232.5L1695.7 225.7L1698.6 221.2L1697.1 214.4L1694.1 209.9L1692.8 204.5L1703.8 203.1L1706.2 200.8M1806.5 316.3L1809.6 309.5L1807.8 302.7L1803.2 293.7L1804.4 287.3L1799.5 280.1L1797.9 277.8L1799.1 272.4L1804.7 269.7L1807.0 269.2L1810.5 264.2M1807.0 269.2L1809.6 273.3L1811.9 273.3L1812.3 281.0L1816.4 279.2L1819.8 278.3L1823.8 278.7L1827.1 282.4L1828.2 287.3L1831.9 290.5L1832.2 296.4L1828.2 296.4L1822.4 297.3L1820.7 300.0L1820.8 305.0L1823.1 308.6M1832.2 296.4L1836.1 295.5L1840.0 295.0L1840.9 302.7L1835.5 308.6L1835.0 311.8L1830.0 314.5M1813.8 260.2L1818.0 266.5L1824.3 268.8L1823.0 273.3L1828.4 277.4L1834.6 284.6L1839.5 291.4L1840.0 295.0M1813.9 332.2L1817.3 335.3L1820.5 335.3L1821.6 333.5M1536.2 220.3L1531.0 219.0L1526.9 220.3L1517.7 219.9L1508.7 218.5L1501.9 214.4L1496.1 212.6L1488.7 216.7L1489.0 222.1L1485.3 224.4L1479.3 221.7L1473.5 219.9L1470.2 214.9L1462.4 212.6L1455.9 211.7L1450.4 208.1L1452.9 203.1L1453.9 198.6L1453.3 194.1L1449.2 192.7L1444.3 194.5L1438.3 194.1L1430.8 195.0L1423.3 195.0L1415.8 196.8L1412.0 199.5L1408.2 200.8L1403.7 202.7L1400.6 201.7L1395.0 202.2L1391.6 199.0L1389.7 199.5L1388.1 204.0L1386.1 207.6L1383.0 209.4L1379.2 211.3L1376.4 214.4L1374.4 219.0L1375.0 223.9L1372.6 228.9L1369.0 231.2L1361.9 235.3L1359.8 239.3L1355.4 243.0L1353.3 249.3L1349.2 254.3L1347.1 260.6L1344.8 267.4L1346.9 268.8L1348.0 273.3L1348.6 279.6L1346.5 286.9L1346.4 289.1L1342.3 295.0L1345.1 298.2L1345.0 302.7L1344.9 305.4L1348.1 308.2L1350.1 309.5L1352.0 312.7L1354.0 315.0L1357.2 318.6L1359.1 323.6L1361.9 328.1L1365.9 330.8L1368.7 333.1L1374.7 338.1L1381.5 341.7L1387.9 339.9L1395.9 338.1L1400.8 339.0L1404.0 339.9L1410.0 337.1L1412.0 336.2L1416.8 334.0L1422.0 333.1L1425.6 332.6L1430.1 333.5L1434.1 338.1L1436.1 342.1L1440.1 341.7L1446.1 340.3L1448.1 343.5L1451.0 343.9L1451.4 350.3L1451.4 357.1L1449.4 359.8L1447.4 364.8L1450.2 370.7L1454.2 376.1L1457.0 379.7L1460.2 384.2L1461.4 388.8L1464.1 395.6L1464.9 401.5L1467.2 409.1L1465.5 417.3L1461.8 422.7L1460.1 430.4L1458.8 438.6L1458.7 443.1L1461.4 447.6L1464.8 456.7L1469.0 465.3L1469.9 474.8L1470.8 482.1L1475.6 491.1L1477.6 496.5L1480.4 504.2L1481.6 509.2L1482.0 515.1L1482.3 517.4L1486.0 518.7L1487.9 519.2L1495.7 516.0L1501.4 515.6L1509.4 515.6L1514.9 513.3L1519.0 510.6L1525.3 504.2L1529.5 499.7L1531.7 497.0L1535.9 492.0L1539.7 483.9L1540.4 478.9L1543.0 475.7L1549.0 472.5L1551.3 468.0L1551.3 461.2L1550.0 455.8L1549.5 451.3L1554.4 447.2L1558.6 442.7L1566.8 437.2L1573.1 431.8L1574.5 427.3L1573.6 420.5L1573.9 411.4L1573.6 409.1L1571.3 404.6L1570.3 397.8L1569.6 392.4L1567.7 388.8L1568.6 384.2L1571.0 379.7L1573.5 374.3L1576.8 370.7L1579.2 368.8L1582.8 363.0L1588.9 357.1L1594.0 352.5L1600.8 345.8L1604.7 341.2L1608.6 334.4L1611.6 326.3L1615.4 318.6L1616.8 314.1L1616.9 307.3L1611.8 309.1L1605.8 310.4L1599.9 310.9L1592.0 314.1L1588.0 314.1L1584.2 309.1L1584.9 305.0L1581.5 301.8L1577.3 296.8L1573.2 293.7L1569.1 291.0L1566.8 284.6L1564.5 280.1L1560.4 276.5L1559.0 272.8L1557.8 266.5L1556.8 262.0L1552.1 255.2L1551.2 252.9L1546.8 246.1L1544.5 240.7L1542.5 235.7L1537.8 226.2ZM1608.9 415.9L1612.2 429.5L1610.7 434.1L1609.6 438.6L1605.8 447.6L1601.7 461.2L1596.7 473.9L1589.8 477.1L1584.3 472.5L1582.2 463.5L1585.6 454.4L1587.6 447.6L1586.5 440.8L1590.8 434.1L1596.9 431.8L1602.4 427.3L1605.4 421.8ZM1403.7 202.7L1405.2 207.6L1407.4 214.4L1400.5 217.6L1397.8 221.7L1392.7 225.7L1384.9 228.0L1378.4 231.6L1378.3 236.3L1360.7 236.3M1378.3 236.3L1378.2 243.9L1365.2 243.9L1364.9 255.4L1360.9 257.4L1360.4 265.0L1345.2 265.0M1378.3 238.0L1393.1 248.4L1386.3 248.4L1388.5 268.3L1390.2 287.8L1390.9 291.4L1375.0 291.4L1369.4 291.9L1366.3 291.0L1363.4 294.6M1393.1 248.4L1404.9 257.2L1416.7 266.0L1425.1 275.6L1428.8 274.9L1434.9 273.3L1441.6 267.0L1459.1 255.2L1452.3 250.2L1449.1 243.0L1450.5 237.1L1450.0 232.5L1448.6 224.8L1446.5 216.7L1443.7 214.0L1441.0 210.3L1443.1 204.5L1443.3 198.6L1444.3 194.5M1448.6 224.8L1451.6 221.2L1451.5 217.6L1456.0 214.4L1455.9 211.7M1459.1 255.2L1467.8 259.3L1470.9 257.4L1474.8 255.4L1490.8 264.4L1506.8 273.3L1506.8 271.0L1510.7 271.0L1510.4 262.0L1509.6 245.0L1508.6 228.0L1507.2 224.4L1508.7 218.5M1510.4 262.0L1523.0 262.0L1535.6 262.0L1557.2 262.0M1474.8 255.4L1471.1 264.2L1473.2 271.0L1474.6 280.1L1473.6 286.9L1466.2 299.6L1461.9 302.3L1453.9 301.4L1447.9 303.6L1439.9 302.7L1433.9 298.7L1428.0 302.7L1426.4 308.6L1427.2 314.1L1423.2 320.8L1422.8 327.6L1422.8 332.6M1346.4 289.1L1352.4 286.4L1356.4 286.9L1359.1 291.4L1363.4 294.6L1364.9 301.4L1366.5 305.4L1364.1 305.4L1357.3 304.2L1352.1 304.1L1345.3 305.7M1345.0 300.0L1352.2 299.1L1357.0 300.5L1352.2 301.8L1345.0 302.3M1357.3 304.2L1357.3 308.6L1352.0 311.8M1366.5 305.4L1372.1 307.3L1376.1 305.4L1378.8 311.8L1380.0 315.4L1381.2 319.0L1379.1 323.1L1377.9 327.2L1374.7 328.1L1373.9 323.6L1370.7 323.1L1367.2 316.3L1362.0 316.8L1358.7 320.8M1370.7 323.1L1365.9 330.4M1377.9 327.2L1377.9 332.2L1381.9 335.3L1381.5 341.7M1380.0 315.4L1387.2 313.6L1390.0 314.5L1390.8 308.2L1394.4 304.1L1396.0 300.9L1400.8 298.2L1404.0 295.0L1409.2 293.7L1412.8 293.8L1418.0 292.3L1425.9 291.4L1428.7 286.9L1428.8 274.9M1390.0 314.5L1393.6 317.7L1401.2 318.6L1400.8 311.8L1412.0 311.3L1415.2 311.8L1417.6 310.0L1421.6 307.3L1426.4 308.6M1401.2 318.6L1402.0 324.5L1399.2 330.8L1400.8 339.0M1412.0 311.3L1414.0 316.3L1413.6 323.1L1414.4 329.9L1416.8 334.0M1415.2 311.8L1417.6 319.5L1418.4 327.6L1418.4 333.5M1412.8 293.8L1416.0 300.9L1420.8 305.0L1421.6 307.3M1466.2 299.6L1468.7 305.0L1470.3 309.5L1466.0 316.3L1463.3 321.7L1460.1 327.6L1456.9 331.7L1452.9 330.4L1449.3 333.5L1447.3 336.7L1446.1 340.3M1468.7 303.2L1471.9 307.3L1474.0 316.3L1468.0 317.2L1472.9 325.4L1474.1 327.6L1469.8 333.5L1471.0 340.8L1472.6 344.4L1476.7 351.6L1477.1 353.9L1470.3 351.6L1465.4 351.6L1457.4 351.6L1451.4 351.2M1451.4 357.1L1457.4 357.1L1457.4 351.6M1506.8 273.3L1507.4 290.5L1503.1 293.7L1501.7 298.2L1499.8 302.7L1501.9 309.5L1503.6 311.8L1498.0 315.0L1494.1 319.5L1488.1 320.8L1484.1 325.4L1478.1 326.7L1474.1 327.6M1503.6 311.8L1506.0 316.3L1506.1 322.2L1512.2 327.6L1518.3 334.4L1522.0 339.0L1514.4 338.1L1508.3 339.0L1502.4 342.6L1496.3 342.1L1490.3 339.0L1486.7 341.2L1486.3 345.8L1478.3 348.0L1477.1 353.9M1486.3 345.8L1484.3 352.5L1483.6 361.6L1477.1 370.7L1475.9 377.4L1473.0 381.1L1469.8 383.8L1464.2 382.4L1461.0 384.2M1465.4 351.6L1465.1 355.7L1469.9 355.7L1469.9 363.9L1467.9 372.5L1462.2 370.7L1459.4 372.9L1458.6 377.4L1456.6 379.3M1461.4 388.8L1464.2 388.3L1478.6 388.3L1479.8 394.2L1482.5 398.3L1489.7 397.8L1490.2 393.3L1499.4 394.7L1499.3 404.6L1500.7 412.3L1508.0 411.0L1507.8 420.5L1499.8 420.5L1499.4 435.0L1504.8 441.3L1512.3 442.2L1509.1 443.1L1505.0 445.4L1495.2 444.5L1494.6 461.2L1490.7 461.2L1490.3 473.9L1489.6 490.2L1485.6 492.5L1479.8 491.6L1475.6 491.1M1458.8 439.9L1465.6 438.6L1468.3 440.4L1485.4 440.4L1496.8 443.1L1504.8 441.3M1490.3 473.9L1493.0 483.0L1497.7 481.6L1501.9 476.2L1508.4 478.4L1512.0 477.5L1517.0 471.6L1519.9 467.6L1527.6 462.1L1522.3 459.0L1521.3 454.4L1515.6 447.6L1512.3 442.2L1519.0 442.7L1526.4 436.3L1532.9 432.2L1536.4 434.1L1542.6 437.2L1542.7 443.1L1541.3 447.6L1542.3 452.2L1540.0 458.1L1535.1 463.0L1527.6 462.1M1535.1 463.0L1537.4 470.3L1537.0 477.1L1536.5 478.9L1537.0 483.0L1540.1 483.2M1536.5 478.9L1533.0 479.3L1531.9 483.9L1537.0 483.0M1516.3 495.6L1522.5 491.1L1525.7 494.7L1523.8 498.8L1519.8 500.2L1517.3 498.4ZM1532.9 432.2L1532.2 428.6L1544.3 425.0L1542.4 422.7L1543.8 415.9L1545.2 410.5L1543.7 404.2L1548.1 404.6L1550.1 406.9L1550.3 413.7L1551.3 418.2L1551.6 422.7L1554.9 428.6L1554.3 434.1L1551.7 439.0L1548.3 435.4L1549.3 429.5L1544.3 425.0M1550.3 413.7L1557.8 414.6L1565.9 412.8L1573.6 409.1M1543.7 404.2L1536.2 400.5L1535.4 398.7L1527.8 400.1L1525.7 403.7L1526.2 415.5L1531.0 416.8L1530.8 422.3L1527.6 422.3L1525.4 417.8L1520.7 415.0L1513.1 412.3L1508.0 411.0M1535.4 398.7L1530.0 388.8L1530.9 382.0L1529.7 379.3L1528.5 373.8L1531.0 367.9L1531.0 361.6L1532.6 358.0L1537.8 351.6L1535.7 345.8L1540.5 345.3L1544.5 344.4L1548.5 342.6L1556.1 340.8L1556.6 341.7L1565.0 345.3L1570.7 346.2L1575.8 342.6L1580.3 343.9L1576.7 348.9L1576.8 365.2L1579.2 368.8M1528.5 373.8L1532.1 374.3L1535.8 372.0L1534.6 366.6L1531.0 367.9M1535.8 372.0L1534.5 376.5L1531.7 381.5L1530.9 382.0M1534.6 366.4L1548.7 366.1L1548.7 360.7L1550.7 356.6L1552.7 353.0L1550.6 347.6L1548.5 342.6M1548.7 366.1L1563.5 375.6L1563.0 377.4L1569.4 382.9M1580.3 343.9L1584.6 339.9L1592.6 339.0L1604.4 325.4L1600.4 325.4L1588.2 320.8L1584.1 318.6L1583.1 312.2L1579.1 311.8L1581.3 305.4L1584.0 304.1M1583.1 312.2L1584.6 310.0M1581.3 305.4L1575.4 299.1L1571.3 295.9L1565.3 296.4L1561.4 297.3L1557.4 296.8L1559.0 289.1L1564.5 280.1M1557.4 296.8L1555.7 304.1L1551.9 311.8L1549.2 314.1L1548.5 318.6L1548.2 323.1L1544.3 325.4L1546.3 327.6L1550.4 331.3L1553.7 337.1L1556.1 340.8M1548.5 318.6L1544.0 314.1L1544.6 306.4L1539.8 307.3L1536.0 316.3L1530.0 316.3L1524.1 318.6L1518.1 318.6L1512.0 315.0L1508.1 322.2L1506.1 322.2M1522.0 339.0L1526.4 342.1L1530.4 341.2L1535.7 345.8M1861.1 460.3L1862.5 463.5L1867.3 456.7L1873.5 454.9L1881.9 452.2L1890.1 450.4L1896.2 442.7L1901.8 439.9L1906.6 435.4L1911.8 427.3L1917.4 424.5L1921.6 428.6L1927.5 429.1L1930.4 422.7L1934.2 417.8L1941.2 416.4L1942.4 412.8L1951.1 416.8L1958.3 416.8L1954.3 422.7L1951.3 429.5L1956.6 433.1L1963.7 437.7L1970.3 440.8L1974.7 431.8L1977.0 422.7L1979.7 411.4L1981.9 410.1L1984.8 418.2L1984.8 426.4L1990.3 429.5L1989.8 436.3L1990.7 445.4L1995.0 449.5L1999.8 454.4L2003.6 463.5L2004.2 468.9L2009.8 477.1L2007.6 486.1L2007.3 491.1L2000.5 502.0L1993.0 510.1L1988.1 514.7L1981.2 522.4L1975.2 530.0L1965.9 533.2L1956.8 538.6L1953.7 535.0L1949.4 535.9L1943.8 535.9L1939.2 534.1L1937.4 530.5L1938.5 524.6L1935.8 522.4L1939.1 511.0L1939.3 508.8L1933.3 515.6L1932.7 521.0L1927.8 519.2L1927.6 518.7L1926.6 513.3L1924.7 508.8L1918.0 506.5L1915.0 504.2L1907.2 504.7L1898.5 507.4L1891.9 509.7L1884.7 513.3L1882.1 515.1L1874.6 514.7L1868.8 515.1L1859.2 520.1L1852.0 519.2L1849.0 516.9L1851.5 513.3L1855.5 506.5L1855.1 499.7L1856.0 491.6L1855.2 486.1L1854.1 479.3L1857.2 472.5L1859.0 463.5ZM1946.2 545.8L1951.7 547.6L1958.9 546.7L1955.6 551.6L1950.1 557.0L1944.2 558.8L1943.0 555.2L1944.1 550.8ZM2068.1 517.4L2069.5 520.1L2070.6 524.6L2072.4 527.8L2071.6 531.8L2079.1 531.8L2080.7 532.3L2073.3 539.1L2069.1 540.9L2063.5 545.8L2056.0 549.9L2055.2 548.5L2060.7 542.7L2058.2 539.5L2062.7 537.3L2067.4 531.4L2068.4 526.9L2067.6 520.1ZM2050.2 544.9L2052.0 550.3L2042.6 556.1L2039.7 559.7L2031.7 561.9L2024.0 569.1L2016.7 572.2L2011.4 572.2L2008.2 569.5L2016.2 564.2L2024.1 560.1L2035.3 555.2L2041.4 550.8L2047.3 546.3ZM1794.5 336.2L1803.4 338.1L1808.4 344.4L1815.8 351.6L1819.9 353.9L1826.0 359.3L1829.2 366.1L1831.9 372.0L1837.8 375.2L1837.2 382.0L1836.6 387.9L1831.3 387.9L1827.5 383.8L1822.9 378.8L1817.8 372.9L1815.5 366.1L1810.0 359.3L1808.7 353.9L1803.8 350.3L1797.5 343.5L1794.6 339.0ZM1833.9 392.4L1837.3 388.3L1841.3 388.8L1847.2 391.5L1855.2 392.4L1857.3 390.6L1863.9 394.2L1871.0 396.5L1870.3 400.5L1862.7 399.6L1852.8 397.8L1844.9 396.9L1839.0 395.1ZM1850.1 354.8L1852.4 352.5L1858.1 353.4L1859.2 349.4L1865.9 347.1L1869.7 341.2L1873.7 339.0L1877.4 334.4L1880.4 329.9L1883.3 332.2L1885.5 335.3L1890.5 338.1L1887.0 342.1L1884.8 345.8L1886.2 351.2L1890.3 357.1L1885.5 358.4L1884.3 364.8L1881.4 367.5L1879.2 375.2L1877.9 379.7L1872.6 380.6L1871.9 377.4L1865.9 376.1L1861.1 377.4L1854.7 375.2L1854.1 368.4L1851.0 363.9L1851.4 361.6L1850.1 358.0ZM1852.4 352.5L1856.2 357.5L1862.1 355.3L1868.2 355.7L1873.4 354.8L1874.1 350.3L1876.0 348.0L1876.6 342.6L1883.8 342.6M1869.7 341.2L1873.0 343.5L1875.0 341.2L1873.7 339.0M1893.5 358.0L1897.5 355.7L1904.4 357.1L1912.4 355.3L1915.2 354.4L1912.5 359.3L1906.4 359.3L1898.4 359.3L1895.2 361.6L1894.3 365.2L1898.3 367.5L1902.4 365.7L1907.6 365.2L1908.0 366.1L1902.3 369.3L1900.3 370.7L1902.9 375.2L1905.1 380.6L1905.7 385.6L1901.8 383.3L1899.9 379.7L1898.2 373.8L1895.3 375.2L1895.4 383.3L1894.8 386.5L1891.6 386.5L1891.5 379.7L1890.0 377.0L1889.3 373.8L1891.5 367.5L1893.6 361.6ZM1938.1 367.9L1938.6 365.2L1944.6 363.4L1950.6 365.2L1952.4 372.9L1954.3 376.5L1960.5 371.6L1966.6 369.3L1977.3 373.4L1984.4 376.1L1992.4 378.8L1997.3 384.2L2003.8 388.8L2004.8 391.9L2001.6 392.4L2005.1 397.8L2010.5 404.6L2015.3 408.2L2010.0 408.7L2002.2 406.9L2001.3 404.6L1995.1 397.8L1991.2 396.5L1987.0 399.2L1984.6 403.3L1976.6 402.8L1971.0 398.3L1964.9 399.6L1968.6 393.3L1965.9 386.5L1958.0 382.4L1950.2 379.3L1946.1 379.7L1945.5 375.2L1949.6 372.0L1942.4 372.9L1939.7 368.4ZM1978.5 373.4L1977.8 388.1L1976.6 402.8M1906.1 408.2L1912.6 402.4L1920.8 399.6L1918.6 402.4L1910.1 407.8ZM1912.6 402.4L1913.2 405.1M1872.8 398.7L1880.8 399.2L1888.8 399.6L1886.6 401.9L1878.5 402.4L1873.4 401.0ZM1891.9 400.1L1898.8 399.6L1904.8 399.2L1903.9 401.5L1894.6 401.9ZM1888.3 405.1L1893.6 404.6L1895.3 407.3L1890.2 406.9ZM1924.4 354.8L1926.4 352.5L1929.3 357.1L1926.5 359.3L1928.5 363.9L1925.7 363.0ZM1926.2 375.2L1932.3 374.3L1937.4 377.0L1932.2 377.4L1927.0 377.0ZM1918.2 376.1L1922.2 375.6L1922.9 377.9L1918.9 378.4ZM2007.1 387.4L2014.2 384.2L2023.2 380.6L2020.0 386.5L2013.8 390.1L2007.8 388.8ZM2017.9 373.4L2024.5 378.8L2026.3 382.9L2022.5 377.4ZM2032.9 386.5L2037.3 392.4L2034.6 390.1ZM2041.5 394.2L2051.1 399.2L2045.2 397.4ZM2059.3 453.1L2067.1 461.2L2068.6 463.0L2061.8 459.0ZM2075.0 429.5L2077.0 431.8L2076.8 436.3L2075.1 433.1ZM1889.0 277.8L1895.7 277.8L1897.3 284.6L1894.9 289.1L1896.3 295.9L1902.2 298.2L1907.1 302.7L1907.0 305.0L1902.7 302.7L1898.3 299.6L1892.7 299.1L1892.3 295.9L1889.6 293.7L1888.7 287.8L1889.0 282.4ZM1901.3 330.4L1906.7 322.7L1910.8 323.1L1914.3 317.2L1919.0 325.4L1918.7 333.1L1915.7 336.2L1914.2 332.2L1909.4 332.2L1909.1 327.6L1905.1 327.6ZM1881.6 323.6L1886.4 318.6L1890.0 314.1L1888.9 310.9L1886.2 316.3L1881.8 321.7ZM1908.2 305.0L1913.1 306.4L1914.5 311.8L1912.1 315.4L1910.5 311.8ZM1901.9 313.1L1905.7 311.8L1905.9 317.2L1904.6 320.8L1902.3 317.2ZM1899.4 308.2L1903.5 309.1L1902.0 314.1L1899.4 312.7ZM1892.1 300.9L1895.7 300.9L1897.0 305.0L1895.2 306.4ZM1653.7 582.8L1658.8 583.2L1657.6 585.4L1653.4 585.4ZM1270.5 94.2L1265.3 90.4L1257.8 89.2L1255.3 83.1L1253.1 77.0L1252.5 71.0L1252.1 65.1L1256.2 59.3L1263.8 55.4L1254.6 53.6L1257.9 49.8L1255.6 46.1L1257.2 40.6L1256.4 35.3L1252.0 31.7L1241.9 31.0L1230.7 31.7L1225.7 28.3L1230.7 25.6L1224.4 23.9L1240.7 20.1L1249.7 18.5L1246.6 16.4L1258.6 14.1L1272.4 12.1L1282.1 12.0L1291.8 11.9L1304.7 10.5L1313.6 9.7L1322.3 9.0L1331.8 8.8L1341.3 8.7L1352.6 10.0L1359.1 11.9L1351.4 13.2L1359.8 13.7L1368.2 14.1L1375.5 14.1L1382.8 14.1L1369.9 17.0L1364.1 20.1L1364.2 24.9L1359.5 28.3L1361.3 31.7L1357.9 35.3L1358.5 38.8L1351.2 40.6L1348.6 46.1L1348.8 51.7L1340.2 51.7L1345.6 53.6L1338.9 57.4L1329.5 60.0L1320.4 61.2L1313.4 65.1L1306.2 69.0L1296.8 70.2L1289.8 73.0L1284.8 79.0L1278.2 85.1L1274.6 91.3ZM1228.0 66.7L1218.1 73.0L1209.8 80.2L1207.7 86.3L1198.5 83.9L1190.2 79.0L1183.3 75.0L1172.8 74.6L1176.6 71.0L1188.4 69.0L1195.2 62.7L1189.1 58.5L1183.8 53.6L1169.3 53.6L1155.5 52.8L1158.3 46.1L1166.3 40.3L1178.0 39.5L1188.4 40.3L1194.4 43.2L1201.4 45.0L1207.8 47.9L1214.1 51.3L1214.7 57.4L1222.4 62.0ZM1074.6 51.7L1077.1 56.2L1089.0 58.9L1103.4 59.3L1117.1 55.4L1119.1 51.7L1115.6 47.9L1119.8 42.4L1111.5 42.4L1103.9 44.3L1096.0 41.3L1082.9 44.3L1074.4 47.9ZM1059.6 46.1L1060.4 49.1L1071.6 47.9L1081.5 44.3L1089.2 42.4L1089.0 38.1L1079.4 37.0L1069.3 39.5ZM1173.9 30.0L1186.8 30.4L1199.4 31.0L1207.3 28.3L1217.4 23.3L1230.7 20.1L1247.4 15.5L1262.2 12.7L1257.1 10.5L1249.1 10.1L1241.2 9.7L1231.6 9.9L1221.9 10.0L1211.3 10.9L1200.5 11.9L1190.4 14.1L1194.0 17.0L1195.4 20.1L1185.5 24.3ZM1166.7 31.7L1167.0 36.7L1180.3 37.0L1193.2 36.3L1197.1 33.5L1187.4 32.4L1175.5 31.0ZM1170.7 21.7L1178.2 23.9L1192.9 20.1L1186.0 15.5L1174.2 17.0ZM1095.4 35.3L1106.7 37.0L1115.9 36.1L1125.1 35.3L1129.4 31.7L1121.0 30.0L1106.8 30.7L1097.7 33.5ZM1143.1 44.3L1148.4 46.1L1161.9 40.6L1156.7 38.8L1146.7 40.6ZM1124.5 46.1L1131.2 47.9L1140.3 44.3L1142.2 39.5L1132.8 40.6ZM1131.4 34.5L1141.4 35.3L1151.3 32.4L1148.3 29.3L1137.4 30.7ZM1121.2 57.4L1127.2 58.9L1132.9 57.4L1129.7 54.3ZM1147.1 71.8L1147.5 80.2L1160.8 79.0L1166.4 75.0L1158.5 73.0L1158.2 69.0ZM1084.1 31.7L1097.4 31.7L1109.0 27.3L1098.6 27.3ZM1143.5 24.9L1155.5 25.6L1166.1 23.3L1159.3 20.7L1147.9 21.7ZM1201.8 146.6L1213.3 147.1L1216.0 150.2L1223.0 150.6L1225.2 146.6L1223.8 141.3L1218.1 136.9L1218.7 129.5L1212.9 133.4L1206.5 140.4ZM966.6 133.0L969.6 142.6L976.8 143.1L975.9 136.1ZM962.2 118.3L962.3 123.0L961.2 126.9L961.3 122.1ZM904.5 103.8L910.2 104.6L913.9 101.7L910.9 100.8ZM876.9 92.5L879.5 93.7L882.1 91.7ZM879.4 79.0L886.2 80.2L888.4 79.0L884.2 78.2ZM1186.8 136.5L1194.3 140.0L1189.4 139.1ZM1338.3 70.6L1345.8 67.4L1357.7 68.6L1363.9 67.0L1368.3 68.2L1370.6 72.2L1365.9 75.8L1356.2 79.0L1348.5 78.2L1342.5 77.4L1344.5 75.0L1338.6 73.4ZM1439.7 20.1L1447.0 18.5L1457.0 18.5L1465.3 21.7L1460.2 26.6L1456.9 29.7L1448.4 26.6L1441.5 23.3ZM1458.1 17.9L1471.4 17.0L1479.4 18.5L1470.1 20.7L1459.8 19.8ZM1467.5 24.9L1474.2 25.6L1470.8 27.3ZM1558.1 47.9L1565.3 50.9L1575.5 51.3L1567.5 44.3L1567.2 41.3L1561.3 40.6L1559.4 45.0ZM1562.2 39.9L1568.5 38.8L1574.4 35.3L1584.5 30.7L1591.8 28.3L1588.8 32.8L1578.3 37.0L1572.7 41.3ZM1530.7 16.7L1539.9 15.8L1547.2 15.7L1554.5 15.5L1565.0 16.4L1553.9 17.9L1546.4 17.9L1539.0 17.9ZM1655.8 21.7L1662.6 19.1L1672.3 20.7L1668.1 23.3ZM1638.5 17.9L1647.0 14.9L1654.7 17.0L1647.2 18.8ZM1667.6 24.9L1676.7 23.9L1684.0 25.6L1674.9 26.6ZM1781.1 34.2L1784.7 31.4L1798.2 33.1L1796.9 35.6L1788.5 36.3ZM1804.8 33.8L1816.1 34.2L1816.4 36.0L1809.0 35.6ZM1797.4 39.5L1807.3 40.6L1806.1 41.7L1799.5 41.0ZM1920.9 49.4L1922.6 47.9L1926.4 50.2L1924.2 50.5ZM1553.3 56.2L1555.8 55.4L1558.3 57.7L1555.0 58.1Z"/></g></defs>
<path d="M168.3 50.2H187.4V540.2H168.3M168.3 148.2H187.4M168.3 246.2H187.4M168.3 344.2H187.4M168.3 442.2H187.4M240.1 656.4V637.6H636.9V656.4M306.2 637.6V656.4M372.4 637.6V656.4M438.5 637.6V656.4M504.6 637.6V656.4M570.8 637.6V656.4" stroke="#000" stroke-width="2.7" fill="none" stroke-linecap="square"/>
<g font-size="30.7" text-anchor="middle">
<text transform="translate(143 52.7) rotate(-90)">0.6</text>
<text transform="translate(143 150.7) rotate(-90)">0.5</text>
<text transform="translate(143 248.7) rotate(-90)">0.4</text>
<text transform="translate(143 346.7) rotate(-90)">0.3</text>
<text transform="translate(143 444.7) rotate(-90)">0.2</text>
<text transform="translate(143 542.7) rotate(-90)">0.1</text>
<text x="239.4" y="704.0">0</text>
<text x="305.5" y="704.0">5</text>
<text x="371.7" y="704.0">10</text>
<text x="437.8" y="704.0">15</text>
<text x="503.9" y="704.0">20</text>
<text x="570.0" y="704.0">25</text>
<text x="636.2" y="704.0">30</text>
</g>
<path d="M168.3 736.2H187.4V1226.2H168.3M168.3 834.2H187.4M168.3 932.2H187.4M168.3 1030.2H187.4M168.3 1128.2H187.4M240.1 1342.4V1323.6H636.9V1342.4M306.2 1323.6V1342.4M372.4 1323.6V1342.4M438.5 1323.6V1342.4M504.6 1323.6V1342.4M570.8 1323.6V1342.4" stroke="#000" stroke-width="2.7" fill="none" stroke-linecap="square"/>
<g font-size="30.7" text-anchor="middle">
<text transform="translate(143 738.7) rotate(-90)">0.6</text>
<text transform="translate(143 836.7) rotate(-90)">0.5</text>
<text transform="translate(143 934.7) rotate(-90)">0.4</text>
<text transform="translate(143 1032.7) rotate(-90)">0.3</text>
<text transform="translate(143 1130.7) rotate(-90)">0.2</text>
<text transform="translate(143 1228.7) rotate(-90)">0.1</text>
<text x="239.4" y="1390.0">0</text>
<text x="305.5" y="1390.0">5</text>
<text x="371.7" y="1390.0">10</text>
<text x="437.8" y="1390.0">15</text>
<text x="503.9" y="1390.0">20</text>
<text x="570.0" y="1390.0">25</text>
<text x="636.2" y="1390.0">30</text>
</g>
<path d="M168.3 1422.2H187.4V1912.2H168.3M168.3 1520.2H187.4M168.3 1618.2H187.4M168.3 1716.2H187.4M168.3 1814.2H187.4M240.1 2028.4V2009.6H636.9V2028.4M306.2 2009.6V2028.4M372.4 2009.6V2028.4M438.5 2009.6V2028.4M504.6 2009.6V2028.4M570.8 2009.6V2028.4" stroke="#000" stroke-width="2.7" fill="none" stroke-linecap="square"/>
<g font-size="30.7" text-anchor="middle">
<text transform="translate(143 1424.7) rotate(-90)">0.6</text>
<text transform="translate(143 1522.7) rotate(-90)">0.5</text>
<text transform="translate(143 1620.7) rotate(-90)">0.4</text>
<text transform="translate(143 1718.7) rotate(-90)">0.3</text>
<text transform="translate(143 1816.7) rotate(-90)">0.2</text>
<text transform="translate(143 1914.7) rotate(-90)">0.1</text>
<text x="239.4" y="2076.0">0</text>
<text x="305.5" y="2076.0">5</text>
<text x="371.7" y="2076.0">10</text>
<text x="437.8" y="2076.0">15</text>
<text x="503.9" y="2076.0">20</text>
<text x="570.0" y="2076.0">25</text>
<text x="636.2" y="2076.0">30</text>
</g>
<use href="#wm" y="0"/>
<use href="#wm" y="686"/>
<use href="#wm" y="1372"/>
<g>
<circle cx="370.6" cy="191.0" r="8.5" fill="#BBBBBB"/>
<circle cx="345.5" cy="271.4" r="8.5" fill="#BBBBBB"/>
<circle cx="305.5" cy="296.0" r="8.5" fill="#BBBBBB"/>
<circle cx="394.2" cy="299.2" r="8.5" fill="#BBBBBB"/>
<circle cx="352.6" cy="373.4" r="8.5" fill="#BBBBBB"/>
<circle cx="275.7" cy="417.8" r="8.5" fill="#BBBBBB"/>
<circle cx="452.2" cy="498.5" r="8.5" fill="#BBBBBB"/>
<circle cx="572.0" cy="171.9" r="8.5" fill="#BBBBBB"/>
<circle cx="574.5" cy="171.9" r="8.5" fill="#BBBBBB"/>
<circle cx="574.7" cy="193.7" r="8.5" fill="#BBBBBB"/>
<circle cx="550.5" cy="204.3" r="8.5" fill="#BBBBBB"/>
<circle cx="550.0" cy="211.7" r="8.5" fill="#BBBBBB"/>
<circle cx="578.6" cy="215.6" r="8.5" fill="#BBBBBB"/>
<circle cx="520.7" cy="217.7" r="8.5" fill="#BBBBBB"/>
<circle cx="553.2" cy="235.3" r="8.5" fill="#BBBBBB"/>
<circle cx="523.7" cy="248.3" r="8.5" fill="#BBBBBB"/>
<circle cx="578.8" cy="288.8" r="8.5" fill="#BBBBBB"/>
<circle cx="625.8" cy="296.1" r="8.5" fill="#BBBBBB"/>
<circle cx="592.4" cy="310.6" r="8.5" fill="#BBBBBB"/>
<circle cx="573.1" cy="379.4" r="8.5" fill="#BBBBBB"/>
<circle cx="600.3" cy="427.7" r="8.5" fill="#BBBBBB"/>
<circle cx="429.8" cy="514.0" r="8.5" fill="#BBBBBB"/>
<circle cx="462.2" cy="576.0" r="8.5" fill="#BBBBBB"/>
<circle cx="559.0" cy="597.1" r="8.5" fill="#BBBBBB"/>
<circle cx="557.9" cy="605.8" r="8.5" fill="#BBBBBB"/>
</g>
<ellipse cx="498.5" cy="330.3" rx="138.6" ry="98.8" transform="rotate(101.12 498.5 330.3)" fill="#BBBBBB" fill-opacity="0.3"/>
<path d="M498.5 193.0V467.6M395.9 347.4L592.4 310.6" stroke="#BBBBBB" stroke-width="3" fill="none" stroke-dasharray="14 10.5" stroke-dashoffset="6.5"/>
<path d="M486.5 330.3H510.5M498.5 318.3V342.3M490.0 321.8L507.0 338.8M490.0 338.8L507.0 321.8" stroke="#BBBBBB" stroke-width="2.8" fill="none"/>
<g>
<circle cx="237.7" cy="21.2" r="8.5" fill="#0077BB"/>
<circle cx="289.4" cy="8.2" r="8.5" fill="#0077BB"/>
<circle cx="269.6" cy="78.9" r="8.5" fill="#0077BB"/>
<circle cx="390.6" cy="190.6" r="8.5" fill="#0077BB"/>
<circle cx="431.1" cy="232.0" r="8.5" fill="#0077BB"/>
<circle cx="270.2" cy="274.8" r="8.5" fill="#0077BB"/>
<circle cx="239.6" cy="294.1" r="8.5" fill="#0077BB"/>
<circle cx="267.1" cy="301.2" r="8.5" fill="#0077BB"/>
<circle cx="298.5" cy="291.8" r="8.5" fill="#0077BB"/>
<circle cx="315.3" cy="282.7" r="8.5" fill="#0077BB"/>
<circle cx="335.3" cy="276.4" r="8.5" fill="#0077BB"/>
<circle cx="364.4" cy="264.3" r="8.5" fill="#0077BB"/>
<circle cx="368.3" cy="270.1" r="8.5" fill="#0077BB"/>
<circle cx="362.0" cy="273.4" r="8.5" fill="#0077BB"/>
<circle cx="366.7" cy="283.6" r="8.5" fill="#0077BB"/>
<circle cx="384.8" cy="306.4" r="8.5" fill="#0077BB"/>
<circle cx="231.8" cy="316.9" r="8.5" fill="#0077BB"/>
<circle cx="267.9" cy="318.9" r="8.5" fill="#0077BB"/>
<circle cx="285.4" cy="311.1" r="8.5" fill="#0077BB"/>
<circle cx="296.1" cy="326.3" r="8.5" fill="#0077BB"/>
<circle cx="327.2" cy="316.1" r="8.5" fill="#0077BB"/>
<circle cx="212.2" cy="338.4" r="8.5" fill="#0077BB"/>
<circle cx="338.5" cy="371.8" r="8.5" fill="#0077BB"/>
<circle cx="366.4" cy="379.3" r="8.5" fill="#0077BB"/>
<circle cx="318.1" cy="403.7" r="8.5" fill="#0077BB"/>
<circle cx="318.6" cy="404.5" r="8.5" fill="#0077BB"/>
<circle cx="329.8" cy="405.1" r="8.5" fill="#0077BB"/>
<circle cx="250.6" cy="416.5" r="8.5" fill="#0077BB"/>
<circle cx="285.4" cy="413.4" r="8.5" fill="#0077BB"/>
<circle cx="205.1" cy="436.2" r="8.5" fill="#0077BB"/>
<circle cx="218.4" cy="439.8" r="8.5" fill="#0077BB"/>
<circle cx="290.6" cy="443.2" r="8.5" fill="#0077BB"/>
<circle cx="402.5" cy="442.0" r="8.5" fill="#0077BB"/>
<circle cx="476.6" cy="355.3" r="8.5" fill="#0077BB"/>
<circle cx="583.5" cy="227.1" r="8.5" fill="#0077BB"/>
<circle cx="548.8" cy="243.6" r="8.5" fill="#0077BB"/>
<circle cx="583.8" cy="257.4" r="8.5" fill="#0077BB"/>
<circle cx="477.1" cy="356.1" r="8.5" fill="#0077BB"/>
<circle cx="532.9" cy="393.5" r="8.5" fill="#0077BB"/>
<circle cx="617.5" cy="399.0" r="8.5" fill="#0077BB"/>
<circle cx="635.6" cy="410.4" r="8.5" fill="#0077BB"/>
<circle cx="547.7" cy="502.2" r="8.5" fill="#0077BB"/>
<circle cx="532.8" cy="553.2" r="8.5" fill="#0077BB"/>
</g>
<ellipse cx="369" cy="324.5" rx="132.1" ry="102.4" transform="rotate(-149.17 369 324.5)" fill="#0077BB" fill-opacity="0.3"/>
<path d="M368.1 214.3V434.3M239.6 294.1L483.0 354.0" stroke="#0077BB" stroke-width="3" fill="none" stroke-dasharray="14 10.5" stroke-dashoffset="6.5"/>
<path d="M356.1 324.3H380.1M368.1 312.3V336.3M359.6 315.8L376.6 332.8M359.6 332.8L376.6 315.8" stroke="#0077BB" stroke-width="2.8" fill="none"/>
<g>
<circle cx="351.0" cy="295.7" r="8.5" fill="#44BB99"/>
<circle cx="433.4" cy="365.1" r="8.5" fill="#44BB99"/>
<circle cx="499.8" cy="318.6" r="8.5" fill="#44BB99"/>
<circle cx="524.1" cy="364.7" r="8.5" fill="#44BB99"/>
<circle cx="550.0" cy="361.3" r="8.5" fill="#44BB99"/>
<circle cx="624.9" cy="370.7" r="8.5" fill="#44BB99"/>
<circle cx="653.1" cy="389.8" r="8.5" fill="#44BB99"/>
<circle cx="563.4" cy="394.0" r="8.5" fill="#44BB99"/>
<circle cx="586.1" cy="408.1" r="8.5" fill="#44BB99"/>
<circle cx="596.3" cy="420.3" r="8.5" fill="#44BB99"/>
<circle cx="587.7" cy="433.2" r="8.5" fill="#44BB99"/>
<circle cx="552.4" cy="417.0" r="8.5" fill="#44BB99"/>
<circle cx="552.4" cy="420.0" r="8.5" fill="#44BB99"/>
<circle cx="561.8" cy="428.5" r="8.5" fill="#44BB99"/>
<circle cx="488.8" cy="426.9" r="8.5" fill="#44BB99"/>
<circle cx="489.6" cy="431.6" r="8.5" fill="#44BB99"/>
<circle cx="572.0" cy="445.7" r="8.5" fill="#44BB99"/>
<circle cx="596.3" cy="455.4" r="8.5" fill="#44BB99"/>
<circle cx="596.6" cy="467.7" r="8.5" fill="#44BB99"/>
<circle cx="557.1" cy="463.0" r="8.5" fill="#44BB99"/>
<circle cx="575.9" cy="488.1" r="8.5" fill="#44BB99"/>
<circle cx="607.3" cy="490.1" r="8.5" fill="#44BB99"/>
<circle cx="632.4" cy="495.1" r="8.5" fill="#44BB99"/>
<circle cx="657.5" cy="479.0" r="8.5" fill="#44BB99"/>
<circle cx="657.5" cy="479.0" r="8.5" fill="#44BB99"/>
<circle cx="487.6" cy="490.4" r="8.5" fill="#44BB99"/>
<circle cx="569.3" cy="548.0" r="8.5" fill="#44BB99"/>
<circle cx="552.7" cy="556.3" r="8.5" fill="#44BB99"/>
<circle cx="562.6" cy="562.6" r="8.5" fill="#44BB99"/>
<circle cx="610.8" cy="558.4" r="8.5" fill="#44BB99"/>
<circle cx="597.9" cy="583.8" r="8.5" fill="#44BB99"/>
<circle cx="556.0" cy="613.1" r="8.5" fill="#44BB99"/>
<circle cx="399.9" cy="507.7" r="8.5" fill="#44BB99"/>
</g>
<ellipse cx="554.7" cy="452.0" rx="82.1" ry="57.7" transform="rotate(54.96 554.7 452.0)" fill="#44BB99" fill-opacity="0.3"/>
<path d="M554.7 379.0V525.0M489.6 428.5L622.2 476.3" stroke="#44BB99" stroke-width="3" fill="none" stroke-dasharray="14 10.5" stroke-dashoffset="6.5"/>
<path d="M542.7 452.0H566.7M554.7 440.0V464.0M546.2 443.5L563.2 460.5M546.2 460.5L563.2 443.5" stroke="#44BB99" stroke-width="2.8" fill="none"/>
<g>
<circle cx="950.1" cy="67.4" r="8.5" fill="#0077BB"/>
<circle cx="1056.8" cy="56.7" r="8.5" fill="#0077BB"/>
<circle cx="1085.2" cy="65.9" r="8.5" fill="#0077BB"/>
<circle cx="1137.0" cy="73.6" r="8.5" fill="#0077BB"/>
<circle cx="1181.6" cy="91.0" r="8.5" fill="#0077BB"/>
<circle cx="1071.9" cy="96.1" r="8.5" fill="#0077BB"/>
<circle cx="1133.2" cy="118.4" r="8.5" fill="#0077BB"/>
<circle cx="1092.5" cy="128.1" r="8.5" fill="#0077BB"/>
<circle cx="1101.1" cy="131.4" r="8.5" fill="#0077BB"/>
<circle cx="1045.1" cy="149.2" r="8.5" fill="#0077BB"/>
<circle cx="1070.6" cy="193.1" r="8.5" fill="#0077BB"/>
<circle cx="1113.0" cy="188.5" r="8.5" fill="#0077BB"/>
<circle cx="1096.7" cy="200.8" r="8.5" fill="#0077BB"/>
<circle cx="1027.9" cy="281.0" r="8.5" fill="#0077BB"/>
<circle cx="1199.4" cy="338.8" r="8.5" fill="#0077BB"/>
<circle cx="1483.4" cy="54.5" r="8.5" fill="#0077BB"/>
<circle cx="1500.0" cy="174.5" r="8.5" fill="#0077BB"/>
<circle cx="1357.9" cy="295.3" r="8.5" fill="#0077BB"/>
<circle cx="1491.5" cy="323.1" r="8.5" fill="#0077BB"/>
<circle cx="1454.0" cy="342.3" r="8.5" fill="#0077BB"/>
<circle cx="1594.1" cy="58.6" r="8.5" fill="#0077BB"/>
<circle cx="1597.9" cy="87.9" r="8.5" fill="#0077BB"/>
<circle cx="1591.3" cy="105.3" r="8.5" fill="#0077BB"/>
<circle cx="1662.0" cy="48.0" r="8.5" fill="#0077BB"/>
<circle cx="1753.0" cy="44.8" r="8.5" fill="#0077BB"/>
<circle cx="1771.3" cy="80.0" r="8.5" fill="#0077BB"/>
<circle cx="1734.1" cy="93.4" r="8.5" fill="#0077BB"/>
<circle cx="1670.2" cy="133.3" r="8.5" fill="#0077BB"/>
<circle cx="1644.9" cy="150.5" r="8.5" fill="#0077BB"/>
<circle cx="1786.7" cy="151.4" r="8.5" fill="#0077BB"/>
<circle cx="1764.4" cy="218.7" r="8.5" fill="#0077BB"/>
<circle cx="1738.3" cy="332.2" r="8.5" fill="#0077BB"/>
<circle cx="1831.5" cy="97.0" r="8.5" fill="#0077BB"/>
<circle cx="1896.1" cy="147.4" r="8.5" fill="#0077BB"/>
<circle cx="1934.0" cy="188.5" r="8.5" fill="#0077BB"/>
<circle cx="1934.0" cy="193.1" r="8.5" fill="#0077BB"/>
<circle cx="1115.7" cy="426.9" r="8.5" fill="#0077BB"/>
<circle cx="1197.7" cy="420.4" r="8.5" fill="#0077BB"/>
<circle cx="1248.0" cy="421.7" r="8.5" fill="#0077BB"/>
<circle cx="1153.4" cy="510.5" r="8.5" fill="#0077BB"/>
<circle cx="1169.3" cy="598.9" r="8.5" fill="#0077BB"/>
<circle cx="1495.7" cy="433.2" r="8.5" fill="#0077BB"/>
<circle cx="2020.9" cy="569.6" r="8.5" fill="#0077BB"/>
<circle cx="997.4" cy="93.7" r="8.5" fill="#BBBBBB"/>
<circle cx="1052.3" cy="119.9" r="8.5" fill="#BBBBBB"/>
<circle cx="969.0" cy="135.5" r="8.5" fill="#BBBBBB"/>
<circle cx="974.8" cy="207.4" r="8.5" fill="#BBBBBB"/>
<circle cx="994.6" cy="204.5" r="8.5" fill="#BBBBBB"/>
<circle cx="1117.7" cy="349.8" r="8.5" fill="#BBBBBB"/>
<circle cx="1130.9" cy="371.0" r="8.5" fill="#BBBBBB"/>
<circle cx="1212.7" cy="366.3" r="8.5" fill="#BBBBBB"/>
<circle cx="1125.9" cy="416.6" r="8.5" fill="#BBBBBB"/>
<circle cx="1210.1" cy="418.1" r="8.5" fill="#BBBBBB"/>
<circle cx="1141.9" cy="553.9" r="8.5" fill="#BBBBBB"/>
<circle cx="1174.3" cy="562.7" r="8.5" fill="#BBBBBB"/>
<circle cx="1497.5" cy="344.1" r="8.5" fill="#BBBBBB"/>
<circle cx="1527.3" cy="351.4" r="8.5" fill="#BBBBBB"/>
<circle cx="1493.3" cy="376.1" r="8.5" fill="#BBBBBB"/>
<circle cx="1526.2" cy="379.4" r="8.5" fill="#BBBBBB"/>
<circle cx="1495.7" cy="480.4" r="8.5" fill="#BBBBBB"/>
<circle cx="1876.9" cy="354.0" r="8.5" fill="#BBBBBB"/>
<circle cx="1820.1" cy="374.7" r="8.5" fill="#BBBBBB"/>
<circle cx="1960.0" cy="374.5" r="8.5" fill="#BBBBBB"/>
<circle cx="1982.1" cy="424.5" r="8.5" fill="#BBBBBB"/>
<circle cx="1984.0" cy="426.0" r="8.5" fill="#BBBBBB"/>
<circle cx="1859.5" cy="518.7" r="8.5" fill="#BBBBBB"/>
<circle cx="1969.1" cy="531.6" r="8.5" fill="#BBBBBB"/>
<circle cx="2009.4" cy="571.8" r="8.5" fill="#BBBBBB"/>
<circle cx="971.7" cy="238.0" r="8.5" fill="#44BB99"/>
<circle cx="991.9" cy="244.0" r="8.5" fill="#44BB99"/>
<circle cx="1026.6" cy="250.4" r="8.5" fill="#44BB99"/>
<circle cx="1421.0" cy="307.5" r="8.5" fill="#44BB99"/>
<circle cx="1550.8" cy="339.0" r="8.5" fill="#44BB99"/>
<circle cx="1553.7" cy="375.2" r="8.5" fill="#44BB99"/>
<circle cx="1533.2" cy="402.3" r="8.5" fill="#44BB99"/>
<circle cx="1481.0" cy="410.3" r="8.5" fill="#44BB99"/>
<circle cx="1511.2" cy="417.8" r="8.5" fill="#44BB99"/>
<circle cx="1541.4" cy="421.5" r="8.5" fill="#44BB99"/>
<circle cx="1568.0" cy="427.9" r="8.5" fill="#44BB99"/>
<circle cx="1511.2" cy="444.4" r="8.5" fill="#44BB99"/>
<circle cx="1472.8" cy="448.0" r="8.5" fill="#44BB99"/>
<circle cx="1484.7" cy="455.7" r="8.5" fill="#44BB99"/>
<circle cx="1494.7" cy="448.4" r="8.5" fill="#44BB99"/>
<circle cx="1506.1" cy="463.0" r="8.5" fill="#44BB99"/>
<circle cx="1549.1" cy="457.2" r="8.5" fill="#44BB99"/>
<circle cx="1535.0" cy="469.5" r="8.5" fill="#44BB99"/>
<circle cx="1524.0" cy="493.3" r="8.5" fill="#44BB99"/>
<circle cx="1504.4" cy="516.1" r="8.5" fill="#44BB99"/>
<circle cx="1238.9" cy="403.4" r="8.5" fill="#44BB99"/>
<circle cx="1258.1" cy="404.3" r="8.5" fill="#44BB99"/>
<circle cx="1169.3" cy="449.7" r="8.5" fill="#44BB99"/>
<circle cx="1197.7" cy="500.4" r="8.5" fill="#44BB99"/>
<circle cx="1139.5" cy="504.0" r="8.5" fill="#44BB99"/>
<circle cx="1138.0" cy="508.5" r="8.5" fill="#44BB99"/>
<circle cx="1177.2" cy="577.7" r="8.5" fill="#44BB99"/>
<circle cx="1912.5" cy="430.9" r="8.5" fill="#44BB99"/>
<circle cx="1939.5" cy="421.7" r="8.5" fill="#44BB99"/>
<circle cx="1955.4" cy="450.6" r="8.5" fill="#44BB99"/>
<circle cx="1995.3" cy="456.0" r="8.5" fill="#44BB99"/>
<circle cx="1946.2" cy="524.6" r="8.5" fill="#44BB99"/>
</g>
<g>
<path d="M237.7 720.4L249.1 700.6L226.3 700.6Z" fill="#009988"/>
<path d="M289.4 683.6L298.5 699.5L280.3 699.5Z" fill="#EE7733"/>
<path d="M269.6 754.3L278.7 770.2L260.5 770.2Z" fill="#EE7733"/>
<rect x="363.8" y="870.2" width="13.6" height="13.6" fill="#BBBBBB"/>
<path d="M390.6 889.8L402.0 870.0L379.2 870.0Z" fill="#009988"/>
<rect x="424.3" y="911.2" width="13.6" height="13.6" fill="#BBBBBB"/>
<path d="M270.2 974.0L281.6 954.2L258.8 954.2Z" fill="#009988"/>
<path d="M239.6 969.5L248.7 985.4L230.5 985.4Z" fill="#EE7733"/>
<path d="M267.1 976.6L276.2 992.5L258.0 992.5Z" fill="#EE7733"/>
<path d="M298.5 991.0L309.9 971.2L287.1 971.2Z" fill="#009988"/>
<path d="M315.3 958.1L324.4 974.0L306.2 974.0Z" fill="#EE7733"/>
<rect x="328.5" y="955.6" width="13.6" height="13.6" fill="#BBBBBB"/>
<rect x="357.6" y="943.5" width="13.6" height="13.6" fill="#BBBBBB"/>
<rect x="361.5" y="949.3" width="13.6" height="13.6" fill="#BBBBBB"/>
<path d="M362.0 972.6L373.4 952.8L350.6 952.8Z" fill="#009988"/>
<path d="M366.7 959.0L375.8 974.9L357.6 974.9Z" fill="#EE7733"/>
<path d="M345.5 970.6L356.9 950.8L334.1 950.8Z" fill="#009988"/>
<rect x="298.7" y="975.2" width="13.6" height="13.6" fill="#BBBBBB"/>
<rect x="344.2" y="974.9" width="13.6" height="13.6" fill="#BBBBBB"/>
<path d="M394.2 998.4L405.6 978.6L382.8 978.6Z" fill="#009988"/>
<path d="M384.8 981.8L393.9 997.7L375.7 997.7Z" fill="#EE7733"/>
<path d="M231.8 992.3L240.9 1008.2L222.7 1008.2Z" fill="#EE7733"/>
<path d="M267.9 994.3L277.0 1010.2L258.8 1010.2Z" fill="#EE7733"/>
<path d="M285.4 1010.3L296.8 990.5L274.0 990.5Z" fill="#009988"/>
<path d="M296.1 1001.7L305.2 1017.6L287.0 1017.6Z" fill="#EE7733"/>
<rect x="320.4" y="995.3" width="13.6" height="13.6" fill="#BBBBBB"/>
<rect x="205.4" y="1017.6" width="13.6" height="13.6" fill="#BBBBBB"/>
<path d="M338.5 1071.0L349.9 1051.2L327.1 1051.2Z" fill="#009988"/>
<path d="M352.6 1048.8L361.7 1064.7L343.5 1064.7Z" fill="#EE7733"/>
<path d="M366.4 1054.7L375.5 1070.6L357.3 1070.6Z" fill="#EE7733"/>
<path d="M318.1 1102.9L329.5 1083.1L306.7 1083.1Z" fill="#009988"/>
<path d="M318.6 1079.9L327.7 1095.8L309.5 1095.8Z" fill="#EE7733"/>
<rect x="323.0" y="1084.3" width="13.6" height="13.6" fill="#BBBBBB"/>
<path d="M250.6 1091.9L259.7 1107.8L241.5 1107.8Z" fill="#EE7733"/>
<path d="M275.7 1117.0L287.1 1097.2L264.3 1097.2Z" fill="#009988"/>
<path d="M285.4 1088.8L294.5 1104.7L276.3 1104.7Z" fill="#EE7733"/>
<path d="M205.1 1135.4L216.5 1115.6L193.7 1115.6Z" fill="#009988"/>
<path d="M218.4 1115.2L227.5 1131.1L209.3 1131.1Z" fill="#EE7733"/>
<path d="M290.6 1142.4L302.0 1122.6L279.2 1122.6Z" fill="#009988"/>
<path d="M402.5 1117.4L411.6 1133.3L393.4 1133.3Z" fill="#EE7733"/>
<path d="M476.6 1054.5L488.0 1034.7L465.2 1034.7Z" fill="#009988"/>
<path d="M433.4 1040.5L442.5 1056.4L424.3 1056.4Z" fill="#EE7733"/>
<rect x="445.4" y="1177.7" width="13.6" height="13.6" fill="#BBBBBB"/>
<path d="M572.0 847.3L581.1 863.2L562.9 863.2Z" fill="#EE7733"/>
<path d="M574.5 847.3L583.6 863.2L565.4 863.2Z" fill="#EE7733"/>
<path d="M574.7 869.1L583.8 885.0L565.6 885.0Z" fill="#EE7733"/>
<rect x="543.7" y="883.5" width="13.6" height="13.6" fill="#BBBBBB"/>
<path d="M550.0 887.1L559.1 903.0L540.9 903.0Z" fill="#EE7733"/>
<path d="M578.6 891.0L587.7 906.9L569.5 906.9Z" fill="#EE7733"/>
<path d="M520.7 893.1L529.8 909.0L511.6 909.0Z" fill="#EE7733"/>
<path d="M553.2 934.5L564.6 914.7L541.8 914.7Z" fill="#009988"/>
<rect x="516.9" y="927.5" width="13.6" height="13.6" fill="#BBBBBB"/>
<path d="M578.8 964.2L587.9 980.1L569.7 980.1Z" fill="#EE7733"/>
<path d="M625.8 995.3L637.2 975.5L614.4 975.5Z" fill="#009988"/>
<path d="M592.4 986.0L601.5 1001.9L583.3 1001.9Z" fill="#EE7733"/>
<rect x="566.3" y="1058.6" width="13.6" height="13.6" fill="#BBBBBB"/>
<path d="M583.5 902.5L592.6 918.4L574.4 918.4Z" fill="#EE7733"/>
<path d="M548.8 919.0L557.9 934.9L539.7 934.9Z" fill="#EE7733"/>
<path d="M583.8 956.6L595.2 936.8L572.4 936.8Z" fill="#009988"/>
<path d="M477.1 1055.3L488.5 1035.5L465.7 1035.5Z" fill="#009988"/>
<path d="M532.9 1092.7L544.3 1072.9L521.5 1072.9Z" fill="#009988"/>
<path d="M617.5 1074.4L626.6 1090.3L608.4 1090.3Z" fill="#EE7733"/>
<path d="M499.8 1017.8L511.2 998.0L488.4 998.0Z" fill="#009988"/>
<path d="M524.1 1040.1L533.2 1056.0L515.0 1056.0Z" fill="#EE7733"/>
<path d="M550.0 1036.7L559.1 1052.6L540.9 1052.6Z" fill="#EE7733"/>
<rect x="618.1" y="1049.9" width="13.6" height="13.6" fill="#BBBBBB"/>
<path d="M653.1 1065.2L662.2 1081.1L644.0 1081.1Z" fill="#EE7733"/>
<rect x="556.6" y="1073.2" width="13.6" height="13.6" fill="#BBBBBB"/>
<path d="M586.1 1107.3L597.5 1087.5L574.7 1087.5Z" fill="#009988"/>
<path d="M596.3 1095.7L605.4 1111.6L587.2 1111.6Z" fill="#EE7733"/>
<path d="M600.3 1126.9L611.7 1107.1L588.9 1107.1Z" fill="#009988"/>
<path d="M587.7 1108.6L596.8 1124.5L578.6 1124.5Z" fill="#EE7733"/>
<path d="M552.4 1092.4L561.5 1108.3L543.3 1108.3Z" fill="#EE7733"/>
<rect x="545.6" y="1099.2" width="13.6" height="13.6" fill="#BBBBBB"/>
<path d="M561.8 1103.9L570.9 1119.8L552.7 1119.8Z" fill="#EE7733"/>
<path d="M488.8 1126.1L500.2 1106.3L477.4 1106.3Z" fill="#009988"/>
<path d="M489.6 1107.0L498.7 1122.9L480.5 1122.9Z" fill="#EE7733"/>
<path d="M572.0 1144.9L583.4 1125.1L560.6 1125.1Z" fill="#009988"/>
<path d="M596.3 1154.6L607.7 1134.8L584.9 1134.8Z" fill="#009988"/>
<path d="M596.6 1166.9L608.0 1147.1L585.2 1147.1Z" fill="#009988"/>
<path d="M557.1 1162.2L568.5 1142.4L545.7 1142.4Z" fill="#009988"/>
<rect x="569.1" y="1167.3" width="13.6" height="13.6" fill="#BBBBBB"/>
<path d="M607.3 1165.5L616.4 1181.4L598.2 1181.4Z" fill="#EE7733"/>
<path d="M632.4 1194.3L643.8 1174.5L621.0 1174.5Z" fill="#009988"/>
<path d="M657.5 1154.4L666.6 1170.3L648.4 1170.3Z" fill="#EE7733"/>
<rect x="650.7" y="1158.2" width="13.6" height="13.6" fill="#BBBBBB"/>
<path d="M487.6 1189.6L499.0 1169.8L476.2 1169.8Z" fill="#009988"/>
<path d="M569.3 1223.4L578.4 1239.3L560.2 1239.3Z" fill="#EE7733"/>
<path d="M552.7 1231.7L561.8 1247.6L543.6 1247.6Z" fill="#EE7733"/>
<path d="M562.6 1261.8L574.0 1242.0L551.2 1242.0Z" fill="#009988"/>
<path d="M610.8 1233.8L619.9 1249.7L601.7 1249.7Z" fill="#EE7733"/>
<path d="M597.9 1259.2L607.0 1275.1L588.8 1275.1Z" fill="#EE7733"/>
<path d="M556.0 1288.5L565.1 1304.4L546.9 1304.4Z" fill="#EE7733"/>
<rect x="628.8" y="1089.6" width="13.6" height="13.6" fill="#BBBBBB"/>
<path d="M547.7 1177.6L556.8 1193.5L538.6 1193.5Z" fill="#EE7733"/>
<path d="M532.8 1228.6L541.9 1244.5L523.7 1244.5Z" fill="#EE7733"/>
<path d="M429.8 1213.2L441.2 1193.4L418.4 1193.4Z" fill="#009988"/>
<path d="M462.2 1251.4L471.3 1267.3L453.1 1267.3Z" fill="#EE7733"/>
<path d="M559.0 1296.3L570.4 1276.5L547.6 1276.5Z" fill="#009988"/>
<path d="M557.9 1281.2L567.0 1297.1L548.8 1297.1Z" fill="#EE7733"/>
<path d="M399.9 1206.9L411.3 1187.1L388.5 1187.1Z" fill="#009988"/>
</g>
<g>
<path d="M950.1 742.8L959.2 758.7L941.0 758.7Z" fill="#EE7733"/>
<path d="M1056.8 732.1L1065.9 748.0L1047.7 748.0Z" fill="#EE7733"/>
<path d="M1085.2 741.3L1094.3 757.2L1076.1 757.2Z" fill="#EE7733"/>
<path d="M1137.0 772.8L1148.4 753.0L1125.6 753.0Z" fill="#009988"/>
<path d="M1181.6 766.4L1190.7 782.3L1172.5 782.3Z" fill="#EE7733"/>
<path d="M1071.9 771.5L1081.0 787.4L1062.8 787.4Z" fill="#EE7733"/>
<path d="M1133.2 793.8L1142.3 809.7L1124.1 809.7Z" fill="#EE7733"/>
<path d="M1092.5 827.3L1103.9 807.5L1081.1 807.5Z" fill="#009988"/>
<path d="M1101.1 806.8L1110.2 822.7L1092.0 822.7Z" fill="#EE7733"/>
<path d="M1045.1 824.6L1054.2 840.5L1036.0 840.5Z" fill="#EE7733"/>
<rect x="1063.8" y="872.3" width="13.6" height="13.6" fill="#BBBBBB"/>
<path d="M1113.0 887.7L1124.4 867.9L1101.6 867.9Z" fill="#009988"/>
<path d="M1096.7 900.0L1108.1 880.2L1085.3 880.2Z" fill="#009988"/>
<path d="M1027.9 980.2L1039.3 960.4L1016.5 960.4Z" fill="#009988"/>
<path d="M1199.4 1014.2L1208.5 1030.1L1190.3 1030.1Z" fill="#EE7733"/>
<path d="M1483.4 729.9L1492.5 745.8L1474.3 745.8Z" fill="#EE7733"/>
<path d="M1500.0 849.9L1509.1 865.8L1490.9 865.8Z" fill="#EE7733"/>
<path d="M1357.9 970.7L1367.0 986.6L1348.8 986.6Z" fill="#EE7733"/>
<rect x="1484.7" y="1002.3" width="13.6" height="13.6" fill="#BBBBBB"/>
<path d="M1454.0 1017.7L1463.1 1033.6L1444.9 1033.6Z" fill="#EE7733"/>
<path d="M1594.1 734.0L1603.2 749.9L1585.0 749.9Z" fill="#EE7733"/>
<path d="M1597.9 787.1L1609.3 767.3L1586.5 767.3Z" fill="#009988"/>
<rect x="1584.5" y="784.5" width="13.6" height="13.6" fill="#BBBBBB"/>
<path d="M1662.0 747.2L1673.4 727.4L1650.6 727.4Z" fill="#009988"/>
<rect x="1746.2" y="724.0" width="13.6" height="13.6" fill="#BBBBBB"/>
<path d="M1771.3 755.4L1780.4 771.3L1762.2 771.3Z" fill="#EE7733"/>
<path d="M1734.1 768.8L1743.2 784.7L1725.0 784.7Z" fill="#EE7733"/>
<path d="M1670.2 832.5L1681.6 812.7L1658.8 812.7Z" fill="#009988"/>
<path d="M1644.9 825.9L1654.0 841.8L1635.8 841.8Z" fill="#EE7733"/>
<path d="M1786.7 850.6L1798.1 830.8L1775.3 830.8Z" fill="#009988"/>
<path d="M1764.4 917.9L1775.8 898.1L1753.0 898.1Z" fill="#009988"/>
<path d="M1738.3 1007.6L1747.4 1023.5L1729.2 1023.5Z" fill="#EE7733"/>
<path d="M1831.5 796.2L1842.9 776.4L1820.1 776.4Z" fill="#009988"/>
<path d="M1896.1 822.8L1905.2 838.7L1887.0 838.7Z" fill="#EE7733"/>
<rect x="1927.2" y="867.7" width="13.6" height="13.6" fill="#BBBBBB"/>
<rect x="1927.2" y="872.3" width="13.6" height="13.6" fill="#BBBBBB"/>
<path d="M1115.7 1102.3L1124.8 1118.2L1106.6 1118.2Z" fill="#EE7733"/>
<path d="M1197.7 1119.6L1209.1 1099.8L1186.3 1099.8Z" fill="#009988"/>
<path d="M1248.0 1120.9L1259.4 1101.1L1236.6 1101.1Z" fill="#009988"/>
<path d="M1153.4 1185.9L1162.5 1201.8L1144.3 1201.8Z" fill="#EE7733"/>
<rect x="1162.5" y="1278.1" width="13.6" height="13.6" fill="#BBBBBB"/>
<path d="M1495.7 1108.6L1504.8 1124.5L1486.6 1124.5Z" fill="#EE7733"/>
<rect x="2014.1" y="1248.8" width="13.6" height="13.6" fill="#BBBBBB"/>
<path d="M997.4 792.9L1008.8 773.1L986.0 773.1Z" fill="#009988"/>
<rect x="1045.5" y="799.1" width="13.6" height="13.6" fill="#BBBBBB"/>
<path d="M969.0 834.7L980.4 814.9L957.6 814.9Z" fill="#009988"/>
<path d="M974.8 882.8L983.9 898.7L965.7 898.7Z" fill="#EE7733"/>
<path d="M994.6 879.9L1003.7 895.8L985.5 895.8Z" fill="#EE7733"/>
<path d="M1117.7 1025.2L1126.8 1041.1L1108.6 1041.1Z" fill="#EE7733"/>
<path d="M1130.9 1046.4L1140.0 1062.3L1121.8 1062.3Z" fill="#EE7733"/>
<path d="M1212.7 1041.7L1221.8 1057.6L1203.6 1057.6Z" fill="#EE7733"/>
<path d="M1125.9 1092.0L1135.0 1107.9L1116.8 1107.9Z" fill="#EE7733"/>
<path d="M1210.1 1117.3L1221.5 1097.5L1198.7 1097.5Z" fill="#009988"/>
<rect x="1135.1" y="1233.1" width="13.6" height="13.6" fill="#BBBBBB"/>
<path d="M1174.3 1261.9L1185.7 1242.1L1162.9 1242.1Z" fill="#009988"/>
<path d="M1497.5 1019.5L1506.6 1035.4L1488.4 1035.4Z" fill="#EE7733"/>
<rect x="1520.5" y="1030.6" width="13.6" height="13.6" fill="#BBBBBB"/>
<path d="M1493.3 1051.5L1502.4 1067.4L1484.2 1067.4Z" fill="#EE7733"/>
<path d="M1526.2 1054.8L1535.3 1070.7L1517.1 1070.7Z" fill="#EE7733"/>
<path d="M1495.7 1179.6L1507.1 1159.8L1484.3 1159.8Z" fill="#009988"/>
<rect x="1870.1" y="1033.2" width="13.6" height="13.6" fill="#BBBBBB"/>
<path d="M1820.1 1073.9L1831.5 1054.1L1808.7 1054.1Z" fill="#009988"/>
<path d="M1960.0 1049.9L1969.1 1065.8L1950.9 1065.8Z" fill="#EE7733"/>
<path d="M1982.1 1123.7L1993.5 1103.9L1970.7 1103.9Z" fill="#009988"/>
<rect x="1977.2" y="1105.2" width="13.6" height="13.6" fill="#BBBBBB"/>
<rect x="1852.7" y="1197.9" width="13.6" height="13.6" fill="#BBBBBB"/>
<path d="M1969.1 1230.8L1980.5 1211.0L1957.7 1211.0Z" fill="#009988"/>
<path d="M2009.4 1247.2L2018.5 1263.1L2000.3 1263.1Z" fill="#EE7733"/>
<path d="M971.7 913.4L980.8 929.3L962.6 929.3Z" fill="#EE7733"/>
<rect x="985.1" y="923.2" width="13.6" height="13.6" fill="#BBBBBB"/>
<path d="M1026.6 925.8L1035.7 941.7L1017.5 941.7Z" fill="#EE7733"/>
<rect x="1414.2" y="986.7" width="13.6" height="13.6" fill="#BBBBBB"/>
<path d="M1550.8 1014.4L1559.9 1030.3L1541.7 1030.3Z" fill="#EE7733"/>
<path d="M1553.7 1074.4L1565.1 1054.6L1542.3 1054.6Z" fill="#009988"/>
<rect x="1526.4" y="1081.5" width="13.6" height="13.6" fill="#BBBBBB"/>
<path d="M1481.0 1085.7L1490.1 1101.6L1471.9 1101.6Z" fill="#EE7733"/>
<path d="M1511.2 1093.2L1520.3 1109.1L1502.1 1109.1Z" fill="#EE7733"/>
<path d="M1541.4 1096.9L1550.5 1112.8L1532.3 1112.8Z" fill="#EE7733"/>
<path d="M1568.0 1127.1L1579.4 1107.3L1556.6 1107.3Z" fill="#009988"/>
<path d="M1511.2 1143.6L1522.6 1123.8L1499.8 1123.8Z" fill="#009988"/>
<path d="M1472.8 1123.4L1481.9 1139.3L1463.7 1139.3Z" fill="#EE7733"/>
<path d="M1484.7 1131.1L1493.8 1147.0L1475.6 1147.0Z" fill="#EE7733"/>
<path d="M1494.7 1123.8L1503.8 1139.7L1485.6 1139.7Z" fill="#EE7733"/>
<path d="M1506.1 1162.2L1517.5 1142.4L1494.7 1142.4Z" fill="#009988"/>
<path d="M1549.1 1156.4L1560.5 1136.6L1537.7 1136.6Z" fill="#009988"/>
<rect x="1528.2" y="1148.7" width="13.6" height="13.6" fill="#BBBBBB"/>
<rect x="1517.2" y="1172.5" width="13.6" height="13.6" fill="#BBBBBB"/>
<path d="M1504.4 1191.5L1513.5 1207.4L1495.3 1207.4Z" fill="#EE7733"/>
<path d="M1238.9 1078.8L1248.0 1094.7L1229.8 1094.7Z" fill="#EE7733"/>
<path d="M1258.1 1079.7L1267.2 1095.6L1249.0 1095.6Z" fill="#EE7733"/>
<path d="M1169.3 1148.9L1180.7 1129.1L1157.9 1129.1Z" fill="#009988"/>
<path d="M1197.7 1199.6L1209.1 1179.8L1186.3 1179.8Z" fill="#009988"/>
<path d="M1139.5 1203.2L1150.9 1183.4L1128.1 1183.4Z" fill="#009988"/>
<path d="M1138.0 1183.9L1147.1 1199.8L1128.9 1199.8Z" fill="#EE7733"/>
<path d="M1177.2 1276.9L1188.6 1257.1L1165.8 1257.1Z" fill="#009988"/>
<path d="M1912.5 1106.3L1921.6 1122.2L1903.4 1122.2Z" fill="#EE7733"/>
<path d="M1939.5 1120.9L1950.9 1101.1L1928.1 1101.1Z" fill="#009988"/>
<rect x="1948.6" y="1129.8" width="13.6" height="13.6" fill="#BBBBBB"/>
<path d="M1995.3 1131.4L2004.4 1147.3L1986.2 1147.3Z" fill="#EE7733"/>
<path d="M1946.2 1223.8L1957.6 1204.0L1934.8 1204.0Z" fill="#009988"/>
</g>
<g>
<path d="M237.7 1382.6L246.8 1398.5L228.6 1398.5Z" fill="#009988"/>
<path d="M289.4 1393.4L300.8 1373.6L278.0 1373.6Z" fill="#EE7733"/>
<path d="M269.6 1440.3L278.7 1456.2L260.5 1456.2Z" fill="#009988"/>
<path d="M370.6 1552.4L379.7 1568.3L361.5 1568.3Z" fill="#009988"/>
<path d="M390.6 1575.8L402.0 1556.0L379.2 1556.0Z" fill="#EE7733"/>
<path d="M431.1 1593.4L440.2 1609.3L422.0 1609.3Z" fill="#009988"/>
<path d="M270.2 1660.0L281.6 1640.2L258.8 1640.2Z" fill="#EE7733"/>
<path d="M239.6 1655.5L248.7 1671.4L230.5 1671.4Z" fill="#009988"/>
<path d="M267.1 1686.4L278.5 1666.6L255.7 1666.6Z" fill="#EE7733"/>
<path d="M298.5 1653.2L307.6 1669.1L289.4 1669.1Z" fill="#009988"/>
<path d="M315.3 1644.1L324.4 1660.0L306.2 1660.0Z" fill="#009988"/>
<path d="M335.3 1637.8L344.4 1653.7L326.2 1653.7Z" fill="#009988"/>
<path d="M364.4 1625.7L373.5 1641.6L355.3 1641.6Z" fill="#009988"/>
<path d="M368.3 1631.5L377.4 1647.4L359.2 1647.4Z" fill="#009988"/>
<path d="M362.0 1634.8L371.1 1650.7L352.9 1650.7Z" fill="#009988"/>
<path d="M366.7 1645.0L375.8 1660.9L357.6 1660.9Z" fill="#009988"/>
<path d="M345.5 1632.8L354.6 1648.7L336.4 1648.7Z" fill="#009988"/>
<path d="M305.5 1681.2L316.9 1661.4L294.1 1661.4Z" fill="#EE7733"/>
<path d="M351.0 1680.9L362.4 1661.1L339.6 1661.1Z" fill="#EE7733"/>
<path d="M394.2 1684.4L405.6 1664.6L382.8 1664.6Z" fill="#EE7733"/>
<path d="M384.8 1667.8L393.9 1683.7L375.7 1683.7Z" fill="#009988"/>
<path d="M231.8 1702.1L243.2 1682.3L220.4 1682.3Z" fill="#EE7733"/>
<path d="M267.9 1680.3L277.0 1696.2L258.8 1696.2Z" fill="#009988"/>
<path d="M285.4 1696.3L296.8 1676.5L274.0 1676.5Z" fill="#EE7733"/>
<path d="M296.1 1687.7L305.2 1703.6L287.0 1703.6Z" fill="#009988"/>
<path d="M327.2 1677.5L336.3 1693.4L318.1 1693.4Z" fill="#009988"/>
<path d="M212.2 1699.8L221.3 1715.7L203.1 1715.7Z" fill="#009988"/>
<path d="M338.5 1757.0L349.9 1737.2L327.1 1737.2Z" fill="#EE7733"/>
<path d="M352.6 1758.6L364.0 1738.8L341.2 1738.8Z" fill="#EE7733"/>
<path d="M366.4 1740.7L375.5 1756.6L357.3 1756.6Z" fill="#009988"/>
<path d="M318.1 1788.9L329.5 1769.1L306.7 1769.1Z" fill="#EE7733"/>
<path d="M318.6 1765.9L327.7 1781.8L309.5 1781.8Z" fill="#009988"/>
<path d="M329.8 1766.5L338.9 1782.4L320.7 1782.4Z" fill="#009988"/>
<path d="M250.6 1777.9L259.7 1793.8L241.5 1793.8Z" fill="#009988"/>
<path d="M275.7 1803.0L287.1 1783.2L264.3 1783.2Z" fill="#EE7733"/>
<path d="M285.4 1774.8L294.5 1790.7L276.3 1790.7Z" fill="#009988"/>
<path d="M205.1 1797.6L214.2 1813.5L196.0 1813.5Z" fill="#009988"/>
<path d="M218.4 1825.0L229.8 1805.2L207.0 1805.2Z" fill="#EE7733"/>
<path d="M290.6 1804.6L299.7 1820.5L281.5 1820.5Z" fill="#009988"/>
<path d="M402.5 1803.4L411.6 1819.3L393.4 1819.3Z" fill="#009988"/>
<path d="M476.6 1740.5L488.0 1720.7L465.2 1720.7Z" fill="#EE7733"/>
<path d="M433.4 1750.3L444.8 1730.5L422.0 1730.5Z" fill="#EE7733"/>
<path d="M452.2 1883.7L463.6 1863.9L440.8 1863.9Z" fill="#EE7733"/>
<path d="M572.0 1533.3L581.1 1549.2L562.9 1549.2Z" fill="#009988"/>
<path d="M574.5 1533.3L583.6 1549.2L565.4 1549.2Z" fill="#009988"/>
<path d="M574.7 1555.1L583.8 1571.0L565.6 1571.0Z" fill="#009988"/>
<path d="M550.5 1565.7L559.6 1581.6L541.4 1581.6Z" fill="#009988"/>
<path d="M550.0 1573.1L559.1 1589.0L540.9 1589.0Z" fill="#009988"/>
<path d="M578.6 1577.0L587.7 1592.9L569.5 1592.9Z" fill="#009988"/>
<path d="M520.7 1602.9L532.1 1583.1L509.3 1583.1Z" fill="#EE7733"/>
<path d="M553.2 1596.7L562.3 1612.6L544.1 1612.6Z" fill="#009988"/>
<path d="M523.7 1609.7L532.8 1625.6L514.6 1625.6Z" fill="#009988"/>
<path d="M578.8 1650.2L587.9 1666.1L569.7 1666.1Z" fill="#009988"/>
<path d="M625.8 1657.5L634.9 1673.4L616.7 1673.4Z" fill="#009988"/>
<path d="M592.4 1695.8L603.8 1676.0L581.0 1676.0Z" fill="#EE7733"/>
<path d="M573.1 1740.8L582.2 1756.7L564.0 1756.7Z" fill="#009988"/>
<path d="M583.5 1588.5L592.6 1604.4L574.4 1604.4Z" fill="#009988"/>
<path d="M548.8 1605.0L557.9 1620.9L539.7 1620.9Z" fill="#009988"/>
<path d="M583.8 1618.8L592.9 1634.7L574.7 1634.7Z" fill="#009988"/>
<path d="M477.1 1741.3L488.5 1721.5L465.7 1721.5Z" fill="#EE7733"/>
<path d="M532.9 1754.9L542.0 1770.8L523.8 1770.8Z" fill="#009988"/>
<path d="M617.5 1784.2L628.9 1764.4L606.1 1764.4Z" fill="#EE7733"/>
<path d="M499.8 1703.8L511.2 1684.0L488.4 1684.0Z" fill="#EE7733"/>
<path d="M524.1 1726.1L533.2 1742.0L515.0 1742.0Z" fill="#009988"/>
<path d="M550.0 1722.7L559.1 1738.6L540.9 1738.6Z" fill="#009988"/>
<path d="M624.9 1755.9L636.3 1736.1L613.5 1736.1Z" fill="#EE7733"/>
<path d="M653.1 1751.2L662.2 1767.1L644.0 1767.1Z" fill="#009988"/>
<path d="M563.4 1755.4L572.5 1771.3L554.3 1771.3Z" fill="#009988"/>
<path d="M586.1 1793.3L597.5 1773.5L574.7 1773.5Z" fill="#EE7733"/>
<path d="M596.3 1805.5L607.7 1785.7L584.9 1785.7Z" fill="#EE7733"/>
<path d="M600.3 1789.1L609.4 1805.0L591.2 1805.0Z" fill="#009988"/>
<path d="M587.7 1794.6L596.8 1810.5L578.6 1810.5Z" fill="#009988"/>
<path d="M552.4 1778.4L561.5 1794.3L543.3 1794.3Z" fill="#009988"/>
<path d="M552.4 1781.4L561.5 1797.3L543.3 1797.3Z" fill="#009988"/>
<path d="M561.8 1789.9L570.9 1805.8L552.7 1805.8Z" fill="#009988"/>
<path d="M488.8 1812.1L500.2 1792.3L477.4 1792.3Z" fill="#EE7733"/>
<path d="M489.6 1816.8L501.0 1797.0L478.2 1797.0Z" fill="#EE7733"/>
<path d="M572.0 1807.1L581.1 1823.0L562.9 1823.0Z" fill="#009988"/>
<path d="M596.3 1840.6L607.7 1820.8L584.9 1820.8Z" fill="#EE7733"/>
<path d="M596.6 1829.1L605.7 1845.0L587.5 1845.0Z" fill="#009988"/>
<path d="M557.1 1848.2L568.5 1828.4L545.7 1828.4Z" fill="#EE7733"/>
<path d="M575.9 1873.3L587.3 1853.5L564.5 1853.5Z" fill="#EE7733"/>
<path d="M607.3 1851.5L616.4 1867.4L598.2 1867.4Z" fill="#009988"/>
<path d="M632.4 1856.5L641.5 1872.4L623.3 1872.4Z" fill="#009988"/>
<path d="M657.5 1840.4L666.6 1856.3L648.4 1856.3Z" fill="#009988"/>
<path d="M657.5 1840.4L666.6 1856.3L648.4 1856.3Z" fill="#009988"/>
<path d="M487.6 1851.8L496.7 1867.7L478.5 1867.7Z" fill="#009988"/>
<path d="M569.3 1909.4L578.4 1925.3L560.2 1925.3Z" fill="#009988"/>
<path d="M552.7 1917.7L561.8 1933.6L543.6 1933.6Z" fill="#009988"/>
<path d="M562.6 1924.0L571.7 1939.9L553.5 1939.9Z" fill="#009988"/>
<path d="M610.8 1919.8L619.9 1935.7L601.7 1935.7Z" fill="#009988"/>
<path d="M597.9 1945.2L607.0 1961.1L588.8 1961.1Z" fill="#009988"/>
<path d="M556.0 1974.5L565.1 1990.4L546.9 1990.4Z" fill="#009988"/>
<path d="M635.6 1771.8L644.7 1787.7L626.5 1787.7Z" fill="#009988"/>
<path d="M547.7 1863.6L556.8 1879.5L538.6 1879.5Z" fill="#009988"/>
<path d="M532.8 1938.4L544.2 1918.6L521.4 1918.6Z" fill="#EE7733"/>
<circle cx="429.8" cy="1886.0" r="8.5" fill="#BBBBBB"/>
<path d="M462.2 1961.2L473.6 1941.4L450.8 1941.4Z" fill="#EE7733"/>
<path d="M559.0 1982.3L570.4 1962.5L547.6 1962.5Z" fill="#EE7733"/>
<path d="M557.9 1967.2L567.0 1983.1L548.8 1983.1Z" fill="#009988"/>
<path d="M399.9 1869.1L409.0 1885.0L390.8 1885.0Z" fill="#009988"/>
</g>
<g>
<path d="M950.1 1452.6L961.5 1432.8L938.7 1432.8Z" fill="#EE7733"/>
<path d="M1056.8 1441.9L1068.2 1422.1L1045.4 1422.1Z" fill="#EE7733"/>
<path d="M1085.2 1451.1L1096.6 1431.3L1073.8 1431.3Z" fill="#EE7733"/>
<path d="M1137.0 1435.0L1146.1 1450.9L1127.9 1450.9Z" fill="#009988"/>
<path d="M1181.6 1452.4L1190.7 1468.3L1172.5 1468.3Z" fill="#009988"/>
<path d="M1071.9 1457.5L1081.0 1473.4L1062.8 1473.4Z" fill="#009988"/>
<path d="M1133.2 1503.6L1144.6 1483.8L1121.8 1483.8Z" fill="#EE7733"/>
<path d="M1092.5 1513.3L1103.9 1493.5L1081.1 1493.5Z" fill="#EE7733"/>
<path d="M1101.1 1492.8L1110.2 1508.7L1092.0 1508.7Z" fill="#009988"/>
<path d="M1045.1 1510.6L1054.2 1526.5L1036.0 1526.5Z" fill="#009988"/>
<path d="M1070.6 1554.5L1079.7 1570.4L1061.5 1570.4Z" fill="#009988"/>
<path d="M1113.0 1549.9L1122.1 1565.8L1103.9 1565.8Z" fill="#009988"/>
<path d="M1096.7 1586.0L1108.1 1566.2L1085.3 1566.2Z" fill="#EE7733"/>
<path d="M1027.9 1666.2L1039.3 1646.4L1016.5 1646.4Z" fill="#EE7733"/>
<path d="M1199.4 1700.2L1208.5 1716.1L1190.3 1716.1Z" fill="#009988"/>
<path d="M1483.4 1415.9L1492.5 1431.8L1474.3 1431.8Z" fill="#009988"/>
<path d="M1500.0 1535.9L1509.1 1551.8L1490.9 1551.8Z" fill="#009988"/>
<path d="M1357.9 1656.7L1367.0 1672.6L1348.8 1672.6Z" fill="#009988"/>
<path d="M1491.5 1684.5L1500.6 1700.4L1482.4 1700.4Z" fill="#009988"/>
<path d="M1454.0 1703.7L1463.1 1719.6L1444.9 1719.6Z" fill="#009988"/>
<path d="M1594.1 1420.0L1603.2 1435.9L1585.0 1435.9Z" fill="#009988"/>
<path d="M1597.9 1449.3L1607.0 1465.2L1588.8 1465.2Z" fill="#009988"/>
<path d="M1591.3 1466.7L1600.4 1482.6L1582.2 1482.6Z" fill="#009988"/>
<path d="M1662.0 1409.4L1671.1 1425.3L1652.9 1425.3Z" fill="#009988"/>
<path d="M1753.0 1406.2L1762.1 1422.1L1743.9 1422.1Z" fill="#009988"/>
<path d="M1771.3 1441.4L1780.4 1457.3L1762.2 1457.3Z" fill="#009988"/>
<path d="M1734.1 1454.8L1743.2 1470.7L1725.0 1470.7Z" fill="#009988"/>
<path d="M1670.2 1518.5L1681.6 1498.7L1658.8 1498.7Z" fill="#EE7733"/>
<path d="M1644.9 1511.9L1654.0 1527.8L1635.8 1527.8Z" fill="#009988"/>
<path d="M1786.7 1512.8L1795.8 1528.7L1777.6 1528.7Z" fill="#009988"/>
<path d="M1764.4 1603.9L1775.8 1584.1L1753.0 1584.1Z" fill="#EE7733"/>
<path d="M1738.3 1717.4L1749.7 1697.6L1726.9 1697.6Z" fill="#EE7733"/>
<path d="M1831.5 1482.2L1842.9 1462.4L1820.1 1462.4Z" fill="#EE7733"/>
<path d="M1896.1 1508.8L1905.2 1524.7L1887.0 1524.7Z" fill="#009988"/>
<path d="M1934.0 1549.9L1943.1 1565.8L1924.9 1565.8Z" fill="#009988"/>
<path d="M1934.0 1554.5L1943.1 1570.4L1924.9 1570.4Z" fill="#009988"/>
<path d="M1115.7 1788.3L1124.8 1804.2L1106.6 1804.2Z" fill="#009988"/>
<path d="M1197.7 1781.8L1206.8 1797.7L1188.6 1797.7Z" fill="#009988"/>
<path d="M1248.0 1783.1L1257.1 1799.0L1238.9 1799.0Z" fill="#009988"/>
<path d="M1153.4 1895.7L1164.8 1875.9L1142.0 1875.9Z" fill="#EE7733"/>
<path d="M1169.3 1960.3L1178.4 1976.2L1160.2 1976.2Z" fill="#009988"/>
<path d="M1495.7 1794.6L1504.8 1810.5L1486.6 1810.5Z" fill="#009988"/>
<path d="M2020.9 1931.0L2030.0 1946.9L2011.8 1946.9Z" fill="#009988"/>
<path d="M997.4 1478.9L1008.8 1459.1L986.0 1459.1Z" fill="#EE7733"/>
<path d="M1052.3 1505.1L1063.7 1485.3L1040.9 1485.3Z" fill="#EE7733"/>
<path d="M969.0 1496.9L978.1 1512.8L959.9 1512.8Z" fill="#009988"/>
<path d="M974.8 1568.8L983.9 1584.7L965.7 1584.7Z" fill="#009988"/>
<path d="M994.6 1589.7L1006.0 1569.9L983.2 1569.9Z" fill="#EE7733"/>
<path d="M1117.7 1711.2L1126.8 1727.1L1108.6 1727.1Z" fill="#009988"/>
<path d="M1130.9 1732.4L1140.0 1748.3L1121.8 1748.3Z" fill="#009988"/>
<path d="M1212.7 1751.5L1224.1 1731.7L1201.3 1731.7Z" fill="#EE7733"/>
<path d="M1125.9 1778.0L1135.0 1793.9L1116.8 1793.9Z" fill="#009988"/>
<path d="M1210.1 1779.5L1219.2 1795.4L1201.0 1795.4Z" fill="#009988"/>
<path d="M1141.9 1915.3L1151.0 1931.2L1132.8 1931.2Z" fill="#009988"/>
<circle cx="1174.3" cy="1934.7" r="8.5" fill="#BBBBBB"/>
<path d="M1497.5 1705.5L1506.6 1721.4L1488.4 1721.4Z" fill="#009988"/>
<path d="M1527.3 1712.8L1536.4 1728.7L1518.2 1728.7Z" fill="#009988"/>
<path d="M1493.3 1737.5L1502.4 1753.4L1484.2 1753.4Z" fill="#009988"/>
<path d="M1526.2 1764.6L1537.6 1744.8L1514.8 1744.8Z" fill="#EE7733"/>
<path d="M1495.7 1865.6L1507.1 1845.8L1484.3 1845.8Z" fill="#EE7733"/>
<path d="M1876.9 1715.4L1886.0 1731.3L1867.8 1731.3Z" fill="#009988"/>
<path d="M1820.1 1736.1L1829.2 1752.0L1811.0 1752.0Z" fill="#009988"/>
<path d="M1960.0 1735.9L1969.1 1751.8L1950.9 1751.8Z" fill="#009988"/>
<path d="M1982.1 1785.9L1991.2 1801.8L1973.0 1801.8Z" fill="#009988"/>
<path d="M1984.0 1787.4L1993.1 1803.3L1974.9 1803.3Z" fill="#009988"/>
<path d="M1859.5 1903.9L1870.9 1884.1L1848.1 1884.1Z" fill="#EE7733"/>
<path d="M1969.1 1916.8L1980.5 1897.0L1957.7 1897.0Z" fill="#EE7733"/>
<path d="M2009.4 1957.0L2020.8 1937.2L1998.0 1937.2Z" fill="#EE7733"/>
<path d="M971.7 1599.4L980.8 1615.3L962.6 1615.3Z" fill="#009988"/>
<path d="M991.9 1605.4L1001.0 1621.3L982.8 1621.3Z" fill="#009988"/>
<path d="M1026.6 1611.8L1035.7 1627.7L1017.5 1627.7Z" fill="#009988"/>
<path d="M1421.0 1668.9L1430.1 1684.8L1411.9 1684.8Z" fill="#009988"/>
<path d="M1550.8 1700.4L1559.9 1716.3L1541.7 1716.3Z" fill="#009988"/>
<path d="M1553.7 1760.4L1565.1 1740.6L1542.3 1740.6Z" fill="#EE7733"/>
<path d="M1533.2 1763.7L1542.3 1779.6L1524.1 1779.6Z" fill="#009988"/>
<path d="M1481.0 1771.7L1490.1 1787.6L1471.9 1787.6Z" fill="#009988"/>
<path d="M1511.2 1779.2L1520.3 1795.1L1502.1 1795.1Z" fill="#009988"/>
<path d="M1541.4 1782.9L1550.5 1798.8L1532.3 1798.8Z" fill="#009988"/>
<path d="M1568.0 1813.1L1579.4 1793.3L1556.6 1793.3Z" fill="#EE7733"/>
<path d="M1511.2 1805.8L1520.3 1821.7L1502.1 1821.7Z" fill="#009988"/>
<path d="M1472.8 1809.4L1481.9 1825.3L1463.7 1825.3Z" fill="#009988"/>
<path d="M1484.7 1817.1L1493.8 1833.0L1475.6 1833.0Z" fill="#009988"/>
<path d="M1494.7 1809.8L1503.8 1825.7L1485.6 1825.7Z" fill="#009988"/>
<path d="M1506.1 1824.4L1515.2 1840.3L1497.0 1840.3Z" fill="#009988"/>
<path d="M1549.1 1818.6L1558.2 1834.5L1540.0 1834.5Z" fill="#009988"/>
<path d="M1535.0 1854.7L1546.4 1834.9L1523.6 1834.9Z" fill="#EE7733"/>
<path d="M1524.0 1878.5L1535.4 1858.7L1512.6 1858.7Z" fill="#EE7733"/>
<path d="M1504.4 1901.3L1515.8 1881.5L1493.0 1881.5Z" fill="#EE7733"/>
<path d="M1238.9 1788.6L1250.3 1768.8L1227.5 1768.8Z" fill="#EE7733"/>
<path d="M1258.1 1765.7L1267.2 1781.6L1249.0 1781.6Z" fill="#009988"/>
<path d="M1169.3 1834.9L1180.7 1815.1L1157.9 1815.1Z" fill="#EE7733"/>
<path d="M1197.7 1885.6L1209.1 1865.8L1186.3 1865.8Z" fill="#EE7733"/>
<path d="M1139.5 1889.2L1150.9 1869.4L1128.1 1869.4Z" fill="#EE7733"/>
<path d="M1138.0 1893.7L1149.4 1873.9L1126.6 1873.9Z" fill="#EE7733"/>
<path d="M1177.2 1939.1L1186.3 1955.0L1168.1 1955.0Z" fill="#009988"/>
<path d="M1912.5 1792.3L1921.6 1808.2L1903.4 1808.2Z" fill="#009988"/>
<path d="M1939.5 1783.1L1948.6 1799.0L1930.4 1799.0Z" fill="#009988"/>
<path d="M1955.4 1835.8L1966.8 1816.0L1944.0 1816.0Z" fill="#EE7733"/>
<path d="M1995.3 1817.4L2004.4 1833.3L1986.2 1833.3Z" fill="#009988"/>
<path d="M1946.2 1886.0L1955.3 1901.9L1937.1 1901.9Z" fill="#009988"/>
</g>
<g font-size="47.2" text-anchor="middle">
<text x="638.7" y="125.0">a</text>
<text x="2159.5" y="87.1">d</text>
<text x="638.7" y="811.0">b</text>
<text x="2159.5" y="773.1">e</text>
<text x="638.7" y="1497.0">c</text>
<text x="2159.5" y="1459.1">f</text>
</g>
<text x="693.5" y="487.6" font-size="30.7">Attribution class:</text>
<circle cx="790.6" cy="526.4" r="8.5" fill="#BBBBBB"/>
<text x="819.2" y="536.8" font-size="30.7">0</text>
<circle cx="790.6" cy="563.5" r="8.5" fill="#0077BB"/>
<text x="819.2" y="573.9" font-size="30.7">1</text>
<circle cx="790.6" cy="600.6" r="8.5" fill="#44BB99"/>
<text x="819.2" y="611.0" font-size="30.7">2</text>
<text x="693.5" y="1173.6" font-size="30.7">Trend shape:</text>
<path d="M744.3 1225.6L755.7 1205.8L732.9 1205.8Z" fill="#009988"/>
<text x="772.9" y="1222.8" font-size="30.7">CUP</text>
<path d="M744.3 1238.9L753.4 1254.8L735.2 1254.8Z" fill="#EE7733"/>
<text x="772.9" y="1259.9" font-size="30.7">HAT</text>
<rect x="737.5" y="1279.8" width="13.6" height="13.6" fill="#BBBBBB"/>
<text x="772.9" y="1297.0" font-size="30.7">LIN</text>
<text x="693.5" y="1859.6" font-size="30.7">Trend sign:</text>
<path d="M715.3 1887.8L724.4 1903.7L706.2 1903.7Z" fill="#009988"/>
<text x="743.9" y="1908.8" font-size="30.7">INC</text>
<path d="M715.3 1948.7L726.7 1928.9L703.9 1928.9Z" fill="#EE7733"/>
<text x="743.9" y="1945.9" font-size="30.7">DEC</text>
<circle cx="715.3" cy="1972.6" r="8.5" fill="#BBBBBB"/>
<text x="743.9" y="1983.0" font-size="30.7">SMALL</text>
<text x="110.6" y="2139.4" font-size="47.2">Mean annual temperature (°C)</text>
<g font-size="46.8">
<text transform="translate(52.2 1376.3) rotate(-90)">Mean annual soil moisture</text>
<text transform="translate(52.6 812.6) rotate(-90) scale(0.8 1)" font-size="59.8">(</text>
<text transform="translate(52.2 794.7) rotate(-90)">kg.</text>
<text transform="translate(52.2 728.8) rotate(-90)">kg</text>
<text transform="translate(27.4 676.8) rotate(-90)" font-size="33">−</text>
<text transform="translate(23.6 657.5) rotate(-90)" font-size="33">1</text>
<text transform="translate(52.6 635.6) rotate(-90) scale(0.8 1)" font-size="59.8">)</text>
</g>
</svg>
</body></html>
